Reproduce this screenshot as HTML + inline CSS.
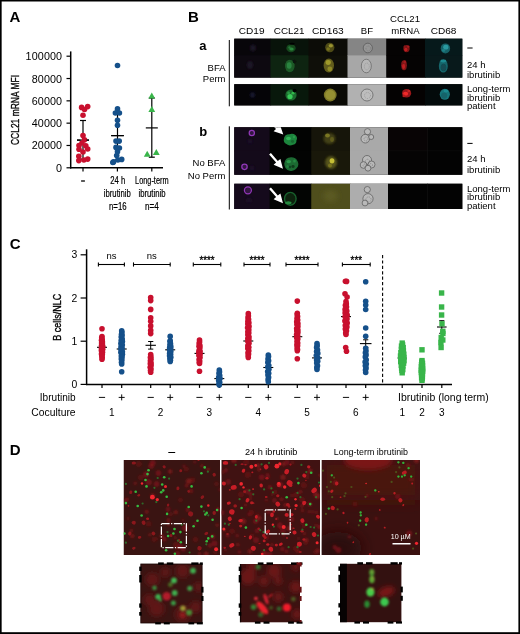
<!DOCTYPE html>
<html><head><meta charset="utf-8"><title>Figure</title>
<style>html,body{margin:0;padding:0;background:#fff}svg{display:block}</style></head>
<body>
<svg width="520" height="634" viewBox="0 0 520 634" font-family="Liberation Sans, sans-serif">
<defs>
<filter id="b1" x="-50%" y="-50%" width="200%" height="200%"><feGaussianBlur stdDeviation="0.6"/></filter>
<filter id="b15" x="-50%" y="-50%" width="200%" height="200%"><feGaussianBlur stdDeviation="0.95"/></filter>
<filter id="b2" x="-50%" y="-50%" width="200%" height="200%"><feGaussianBlur stdDeviation="1.2"/></filter>
<filter id="b3" x="-50%" y="-50%" width="200%" height="200%"><feGaussianBlur stdDeviation="2.5"/></filter>
<filter id="b8" x="-50%" y="-50%" width="200%" height="200%"><feGaussianBlur stdDeviation="7"/></filter>
<clipPath id="cd1"><rect x="123.75" y="460" width="96.25" height="95"/></clipPath>
<clipPath id="cd2"><rect x="221.5" y="460" width="98.5" height="95"/></clipPath>
<clipPath id="cd3"><rect x="321.75" y="460" width="98.25" height="95"/></clipPath>
<clipPath id="ci1"><rect x="140.8" y="564" width="61.3" height="59"/></clipPath>
<clipPath id="ci2"><rect x="240.5" y="564" width="59.5" height="58.3"/></clipPath>
<clipPath id="ci3"><rect x="340" y="563.8" width="61.4" height="58.4"/></clipPath>
<clipPath id="cba"><rect x="234.25" y="38.7" width="228" height="66.7"/></clipPath>
<clipPath id="cbb"><rect x="234.25" y="127.25" width="228" height="82"/></clipPath>
</defs>
<rect x="0" y="0" width="520" height="634" fill="#fff"/>
<rect x="0" y="0" width="520" height="1.5" fill="#000"/><rect x="0" y="0" width="1.65" height="634" fill="#000"/><rect x="518.4" y="0" width="1.6" height="634" fill="#000"/><rect x="0" y="632.2" width="520" height="1.8" fill="#000"/>
<text x="9.5" y="22" font-size="15" text-anchor="start" font-weight="bold" fill="#000" >A</text>
<line x1="70.7" y1="51.4" x2="70.7" y2="168.5" stroke="#000" stroke-width="1.5" />
<line x1="70.0" y1="167.8" x2="163" y2="167.8" stroke="#000" stroke-width="1.5" />
<line x1="66.5" y1="167.8" x2="70.7" y2="167.8" stroke="#000" stroke-width="1.2" />
<text x="62.2" y="171.8" font-size="10.75" text-anchor="end" font-weight="normal" fill="#000" letter-spacing="0.12">0</text>
<line x1="66.5" y1="145.48000000000002" x2="70.7" y2="145.48000000000002" stroke="#000" stroke-width="1.2" />
<text x="62.2" y="149.48000000000002" font-size="10.75" text-anchor="end" font-weight="normal" fill="#000" letter-spacing="0.12">20000</text>
<line x1="66.5" y1="123.16000000000001" x2="70.7" y2="123.16000000000001" stroke="#000" stroke-width="1.2" />
<text x="62.2" y="127.16000000000001" font-size="10.75" text-anchor="end" font-weight="normal" fill="#000" letter-spacing="0.12">40000</text>
<line x1="66.5" y1="100.84" x2="70.7" y2="100.84" stroke="#000" stroke-width="1.2" />
<text x="62.2" y="104.84" font-size="10.75" text-anchor="end" font-weight="normal" fill="#000" letter-spacing="0.12">60000</text>
<line x1="66.5" y1="78.52000000000001" x2="70.7" y2="78.52000000000001" stroke="#000" stroke-width="1.2" />
<text x="62.2" y="82.52000000000001" font-size="10.75" text-anchor="end" font-weight="normal" fill="#000" letter-spacing="0.12">80000</text>
<line x1="66.5" y1="56.20000000000002" x2="70.7" y2="56.20000000000002" stroke="#000" stroke-width="1.2" />
<text x="62.2" y="60.20000000000002" font-size="10.75" text-anchor="end" font-weight="normal" fill="#000" letter-spacing="0.12">100000</text>
<line x1="83" y1="167.8" x2="83" y2="171.5" stroke="#000" stroke-width="1.2" />
<line x1="117.4" y1="167.8" x2="117.4" y2="171.5" stroke="#000" stroke-width="1.2" />
<line x1="151.8" y1="167.8" x2="151.8" y2="171.5" stroke="#000" stroke-width="1.2" />
<text transform="translate(19.4,110) rotate(-90)" font-size="11.5" text-anchor="middle" textLength="70" lengthAdjust="spacingAndGlyphs" stroke="#000" stroke-width="0.35">CCL21 mRNA MFI</text>
<line x1="81.1" y1="181" x2="84.9" y2="181" stroke="#000" stroke-width="1.3" />
<text x="117.8" y="184" font-size="10" text-anchor="middle" font-weight="normal" fill="#000" textLength="15" lengthAdjust="spacingAndGlyphs" stroke="#000" stroke-width="0.2">24 h</text>
<text x="117.3" y="196.8" font-size="10" text-anchor="middle" font-weight="normal" fill="#000" textLength="27" lengthAdjust="spacingAndGlyphs" stroke="#000" stroke-width="0.2">ibrutinib</text>
<text x="117.8" y="209.5" font-size="10" text-anchor="middle" font-weight="normal" fill="#000" textLength="17.5" lengthAdjust="spacingAndGlyphs" stroke="#000" stroke-width="0.2">n=16</text>
<text x="151.8" y="184" font-size="10" text-anchor="middle" font-weight="normal" fill="#000" textLength="33.5" lengthAdjust="spacingAndGlyphs" stroke="#000" stroke-width="0.2">Long-term</text>
<text x="152" y="196.8" font-size="10" text-anchor="middle" font-weight="normal" fill="#000" textLength="27" lengthAdjust="spacingAndGlyphs" stroke="#000" stroke-width="0.2">ibrutinib</text>
<text x="151.9" y="209.5" font-size="10" text-anchor="middle" font-weight="normal" fill="#000" textLength="13.8" lengthAdjust="spacingAndGlyphs" stroke="#000" stroke-width="0.2">n=4</text>
<line x1="83" y1="120.5" x2="83" y2="159.1" stroke="#000" stroke-width="1.2" />
<line x1="80" y1="120.5" x2="86" y2="120.5" stroke="#000" stroke-width="1.2" />
<line x1="80" y1="159.1" x2="86" y2="159.1" stroke="#000" stroke-width="1.2" />
<line x1="77" y1="140.1" x2="89" y2="140.1" stroke="#000" stroke-width="1.2" />
<line x1="117.5" y1="113" x2="117.5" y2="160" stroke="#000" stroke-width="1.2" />
<line x1="114.5" y1="113" x2="120.5" y2="113" stroke="#000" stroke-width="1.2" />
<line x1="114.5" y1="160" x2="120.5" y2="160" stroke="#000" stroke-width="1.2" />
<line x1="111.2" y1="135.6" x2="123.8" y2="135.6" stroke="#000" stroke-width="1.2" />
<circle cx="81.6" cy="107.4" r="2.8" fill="#c8102e" />
<circle cx="87.7" cy="106.6" r="2.8" fill="#c8102e" />
<circle cx="84.5" cy="109.5" r="2.8" fill="#c8102e" />
<circle cx="83.0" cy="115.2" r="2.8" fill="#c8102e" />
<circle cx="83.0" cy="135.6" r="2.8" fill="#c8102e" />
<circle cx="84.5" cy="139.8" r="2.8" fill="#c8102e" />
<circle cx="82.0" cy="143.0" r="2.8" fill="#c8102e" />
<circle cx="79.0" cy="145.5" r="2.8" fill="#c8102e" />
<circle cx="85.8" cy="145.8" r="2.8" fill="#c8102e" />
<circle cx="79.0" cy="149.3" r="2.8" fill="#c8102e" />
<circle cx="87.7" cy="149.0" r="2.8" fill="#c8102e" />
<circle cx="83.0" cy="152.0" r="2.8" fill="#c8102e" />
<circle cx="78.8" cy="156.2" r="2.8" fill="#c8102e" />
<circle cx="78.8" cy="160.6" r="2.8" fill="#c8102e" />
<circle cx="87.7" cy="159.1" r="2.8" fill="#c8102e" />
<circle cx="83.9" cy="160.0" r="2.8" fill="#c8102e" />
<circle cx="117.5" cy="65.5" r="2.8" fill="#15508a" />
<circle cx="117.5" cy="108.9" r="2.8" fill="#15508a" />
<circle cx="115.4" cy="113.0" r="2.8" fill="#15508a" />
<circle cx="119.4" cy="113.0" r="2.8" fill="#15508a" />
<circle cx="117.5" cy="120.3" r="2.8" fill="#15508a" />
<circle cx="117.5" cy="125.3" r="2.8" fill="#15508a" />
<circle cx="116.0" cy="141.1" r="2.8" fill="#15508a" />
<circle cx="119.2" cy="141.1" r="2.8" fill="#15508a" />
<circle cx="116.0" cy="147.4" r="2.8" fill="#15508a" />
<circle cx="119.4" cy="148.0" r="2.8" fill="#15508a" />
<circle cx="117.5" cy="151.8" r="2.8" fill="#15508a" />
<circle cx="116.7" cy="155.6" r="2.8" fill="#15508a" />
<circle cx="113.5" cy="161.9" r="2.8" fill="#15508a" />
<circle cx="117.9" cy="160.0" r="2.8" fill="#15508a" />
<circle cx="121.7" cy="159.4" r="2.8" fill="#15508a" />
<circle cx="112.8" cy="162.5" r="2.8" fill="#15508a" />
<line x1="77" y1="140.1" x2="80.5" y2="140.1" stroke="#000" stroke-width="1.2" />
<line x1="86.5" y1="140.1" x2="89" y2="140.1" stroke="#000" stroke-width="1.2" />
<line x1="111.2" y1="135.6" x2="123.8" y2="135.6" stroke="#000" stroke-width="1.2" />
<line x1="151.8" y1="98" x2="151.8" y2="157.2" stroke="#000" stroke-width="1.2" />
<line x1="148.8" y1="98" x2="154.8" y2="98" stroke="#000" stroke-width="1.2" />
<line x1="148.8" y1="157.2" x2="154.8" y2="157.2" stroke="#000" stroke-width="1.2" />
<line x1="145.8" y1="127.9" x2="157.8" y2="127.9" stroke="#000" stroke-width="1.2" />
<polygon points="148.4,98.6 155.2,98.6 151.8,92.6" fill="#39b54a"/>
<polygon points="148.4,112.0 155.2,112.0 151.8,106.0" fill="#39b54a"/>
<polygon points="143.8,156.7 150.6,156.7 147.2,150.7" fill="#39b54a"/>
<polygon points="152.9,155.0 159.7,155.0 156.3,149.0" fill="#39b54a"/>
<text x="188" y="22" font-size="15" text-anchor="start" font-weight="bold" fill="#000" >B</text>
<text x="199.3" y="49.8" font-size="13" text-anchor="start" font-weight="bold" fill="#000" >a</text>
<text x="199.3" y="136.3" font-size="13" text-anchor="start" font-weight="bold" fill="#000" >b</text>
<text x="225.5" y="71" font-size="9.5" text-anchor="end" font-weight="normal" fill="#000" >BFA</text>
<text x="225.5" y="82.3" font-size="9.5" text-anchor="end" font-weight="normal" fill="#000" >Perm</text>
<text x="225.3" y="166.2" font-size="9.5" text-anchor="end" font-weight="normal" fill="#000" >No BFA</text>
<text x="225.3" y="178.7" font-size="9.5" text-anchor="end" font-weight="normal" fill="#000" >No Perm</text>
<line x1="229.3" y1="40" x2="229.3" y2="106.3" stroke="#000" stroke-width="1" />
<line x1="229.3" y1="126.3" x2="229.3" y2="209.5" stroke="#000" stroke-width="1" />
<text x="238.75" y="33.8" font-size="9.8" text-anchor="start" font-weight="normal" fill="#000" textLength="25.75" lengthAdjust="spacingAndGlyphs" >CD19</text>
<text x="273.75" y="33.8" font-size="9.8" text-anchor="start" font-weight="normal" fill="#000" textLength="30.75" lengthAdjust="spacingAndGlyphs" >CCL21</text>
<text x="312" y="33.8" font-size="9.8" text-anchor="start" font-weight="normal" fill="#000" textLength="31.75" lengthAdjust="spacingAndGlyphs" >CD163</text>
<text x="360.75" y="33.8" font-size="9.8" text-anchor="start" font-weight="normal" fill="#000" textLength="12.25" lengthAdjust="spacingAndGlyphs" >BF</text>
<text x="430.7" y="33.8" font-size="9.8" text-anchor="start" font-weight="normal" fill="#000" textLength="25.8" lengthAdjust="spacingAndGlyphs" >CD68</text>
<text x="390" y="22" font-size="9.8" text-anchor="start" font-weight="normal" fill="#000" textLength="30" lengthAdjust="spacingAndGlyphs" >CCL21</text>
<text x="391.25" y="33.8" font-size="9.8" text-anchor="start" font-weight="normal" fill="#000" textLength="28.3" lengthAdjust="spacingAndGlyphs" >mRNA</text>
<line x1="467.3" y1="48" x2="472.6" y2="48" stroke="#000" stroke-width="1.0" />
<text x="467" y="67.7" font-size="9.5" text-anchor="start" font-weight="normal" fill="#000" >24 h</text>
<text x="467" y="78" font-size="9.5" text-anchor="start" font-weight="normal" fill="#000" >ibrutinib</text>
<text x="467" y="92.4" font-size="9.5" text-anchor="start" font-weight="normal" fill="#000" >Long-term</text>
<text x="467" y="100.7" font-size="9.5" text-anchor="start" font-weight="normal" fill="#000" >ibrutinib</text>
<text x="467" y="109.2" font-size="9.5" text-anchor="start" font-weight="normal" fill="#000" >patient</text>
<line x1="467.3" y1="143.4" x2="472.6" y2="143.4" stroke="#000" stroke-width="1.0" />
<text x="467" y="161.8" font-size="9.5" text-anchor="start" font-weight="normal" fill="#000" >24 h</text>
<text x="467" y="172.7" font-size="9.5" text-anchor="start" font-weight="normal" fill="#000" >ibrutinib</text>
<text x="467" y="191.6" font-size="9.5" text-anchor="start" font-weight="normal" fill="#000" >Long-term</text>
<text x="467" y="200" font-size="9.5" text-anchor="start" font-weight="normal" fill="#000" >ibrutinib</text>
<text x="467" y="209" font-size="9.5" text-anchor="start" font-weight="normal" fill="#000" >patient</text>
<rect x="234.25" y="38.7" width="228.05" height="38.9" fill="#0a0a0a" />
<rect x="234.25" y="84.2" width="228.05" height="21.2" fill="#0a0a0a" />
<rect x="234.25" y="38.7" width="36.85" height="17.15" fill="#08060a" />
<rect x="234.25" y="55.25" width="36.85" height="22.349999999999994" fill="#0d0910" />
<rect x="234.25" y="84.2" width="36.85" height="21.200000000000003" fill="#050407" />
<rect x="270.5" y="38.7" width="38.6" height="17.15" fill="#08130a" />
<rect x="270.5" y="55.25" width="38.6" height="22.349999999999994" fill="#0e2411" />
<rect x="270.5" y="84.2" width="38.6" height="21.200000000000003" fill="#08180b" />
<rect x="308.5" y="38.7" width="39.6" height="17.15" fill="#0c0c07" />
<rect x="308.5" y="55.25" width="39.6" height="22.349999999999994" fill="#0f0f09" />
<rect x="308.5" y="84.2" width="39.6" height="21.200000000000003" fill="#0a0a05" />
<rect x="347.5" y="38.7" width="39.35" height="17.15" fill="#858585" />
<rect x="347.5" y="55.25" width="39.35" height="22.349999999999994" fill="#a7a7a7" />
<rect x="347.5" y="84.2" width="39.35" height="21.200000000000003" fill="#b1b1b1" />
<rect x="386.25" y="38.7" width="39.35" height="17.15" fill="#050303" />
<rect x="386.25" y="55.25" width="39.35" height="22.349999999999994" fill="#050303" />
<rect x="386.25" y="84.2" width="39.35" height="21.200000000000003" fill="#040202" />
<rect x="425" y="38.7" width="37.30000000000001" height="17.15" fill="#06191b" />
<rect x="425" y="55.25" width="37.30000000000001" height="22.349999999999994" fill="#08191b" />
<rect x="425" y="84.2" width="37.30000000000001" height="21.200000000000003" fill="#030a0b" />
<g clip-path="url(#cba)">
<ellipse cx="253" cy="48" rx="2.8" ry="3.2" fill="#1c1528" filter="url(#b2)"/>
<ellipse cx="250" cy="65" rx="3" ry="4" fill="#1d1428" filter="url(#b2)"/>
<ellipse cx="252.5" cy="95" rx="2.4" ry="2.8" fill="#191530" filter="url(#b2)"/>
<ellipse cx="291" cy="48.2" rx="4.6" ry="4.0" fill="#18481f" filter="url(#b1)"/>
<ellipse cx="291.5" cy="49" rx="2.2" ry="1.6" fill="#2a8a3e" filter="url(#b1)"/>
<ellipse cx="289.5" cy="47.5" rx="1.2" ry="1.2" fill="#25763a" filter="url(#b1)"/>
<ellipse cx="289.8" cy="66" rx="4.8" ry="6.2" fill="#1d5a28" filter="url(#b1)"/>
<ellipse cx="289.2" cy="65.5" rx="2.4" ry="3.2" fill="#2a8440" filter="url(#b1)"/>
<ellipse cx="291" cy="95" rx="5.6" ry="5.6" fill="#1b6a2e" filter="url(#b1)"/>
<ellipse cx="290" cy="96.5" rx="2.6" ry="2.6" fill="#38cc58" filter="url(#b1)"/>
<ellipse cx="293" cy="93.2" rx="1.5" ry="1.4" fill="#32b84c" filter="url(#b1)"/>
<ellipse cx="288.6" cy="93" rx="1.4" ry="1.6" fill="#2a9a44" filter="url(#b1)"/>
<ellipse cx="292" cy="43.8" rx="2.8" ry="1.0" fill="#000" filter="url(#b1)"/>
<ellipse cx="294.6" cy="61.6" rx="1.8" ry="1.8" fill="#08150a" filter="url(#b1)"/>
<ellipse cx="294.6" cy="90.6" rx="2.0" ry="1.8" fill="#020502" filter="url(#b1)"/>
<ellipse cx="329.8" cy="47.5" rx="4.6" ry="4.8" fill="#4f4b16" filter="url(#b1)"/>
<ellipse cx="330.8" cy="45.8" rx="2.2" ry="1.8" fill="#9a9430" filter="url(#b1)"/>
<ellipse cx="328.2" cy="49" rx="1.8" ry="1.8" fill="#77721f" filter="url(#b1)"/>
<ellipse cx="328.8" cy="65.5" rx="5.2" ry="7.0" fill="#625d1b" filter="url(#b1)"/>
<ellipse cx="328.2" cy="62.5" rx="2.6" ry="2.4" fill="#a09a2c" filter="url(#b1)"/>
<ellipse cx="329.8" cy="69" rx="2.4" ry="2.4" fill="#8f8a28" filter="url(#b1)"/>
<ellipse cx="330.2" cy="95" rx="6.4" ry="6.4" fill="#7a7526" filter="url(#b1)"/>
<ellipse cx="330.2" cy="95" rx="5" ry="5" fill="#959032" filter="url(#b1)"/>
<ellipse cx="367.8" cy="48" rx="4.6" ry="4.8" fill="#959595" stroke="#5a5a5a" stroke-width="0.8" filter="url(#b1)"/>
<ellipse cx="368.3" cy="48.5" rx="2.3" ry="2.4" fill="none" stroke="#5a5a5a" stroke-width="0.5" stroke-dasharray="1 1" filter="url(#b1)" opacity="0.7"/>
<ellipse cx="366.3" cy="66" rx="5.0" ry="6.8" fill="#b6b6b6" stroke="#6a6a6a" stroke-width="0.8" filter="url(#b1)"/>
<ellipse cx="366.8" cy="66.5" rx="2.5" ry="3.4" fill="none" stroke="#6a6a6a" stroke-width="0.5" stroke-dasharray="1 1" filter="url(#b1)" opacity="0.7"/>
<ellipse cx="367" cy="95" rx="6.0" ry="6.0" fill="#bdbdbd" stroke="#666" stroke-width="0.8" filter="url(#b1)"/>
<ellipse cx="367.5" cy="95.5" rx="3.0" ry="3.0" fill="none" stroke="#666" stroke-width="0.5" stroke-dasharray="1 1" filter="url(#b1)" opacity="0.7"/>
<ellipse cx="406.5" cy="48.6" rx="3.2" ry="3.6" fill="#7a1416" filter="url(#b1)"/>
<ellipse cx="405.8" cy="49.6" rx="1.6" ry="1.8" fill="#c01e20" filter="url(#b1)"/>
<ellipse cx="408.2" cy="46.6" rx="1.3" ry="1.2" fill="#a81a1c" filter="url(#b1)"/>
<ellipse cx="404.6" cy="46.8" rx="1.0" ry="1.2" fill="#8a1618" filter="url(#b1)"/>
<ellipse cx="404" cy="65.3" rx="2.9" ry="5" fill="#7e1416" filter="url(#b1)"/>
<ellipse cx="403.6" cy="66.5" rx="1.5" ry="2.4" fill="#c01e20" filter="url(#b1)"/>
<ellipse cx="404.8" cy="62" rx="1.4" ry="1.4" fill="#a01a1c" filter="url(#b1)"/>
<ellipse cx="406.6" cy="93.2" rx="4.6" ry="4.2" fill="#9a181a" filter="url(#b1)"/>
<ellipse cx="405.6" cy="93.8" rx="2.6" ry="2.0" fill="#f02a2a" filter="url(#b1)"/>
<ellipse cx="408.8" cy="91" rx="1.4" ry="1.2" fill="#c82222" filter="url(#b1)"/>
<ellipse cx="404" cy="96" rx="1.6" ry="1.2" fill="#b01c1c" filter="url(#b1)"/>
<ellipse cx="445.4" cy="48.4" rx="4.7" ry="5" fill="#166268" filter="url(#b1)"/>
<ellipse cx="445.8" cy="47.2" rx="2.6" ry="2.4" fill="#2a9aa0" filter="url(#b1)"/>
<ellipse cx="443.6" cy="50.4" rx="1.6" ry="1.4" fill="#1f8086" filter="url(#b1)"/>
<ellipse cx="443.3" cy="66" rx="4.5" ry="6.6" fill="#15656b" filter="url(#b1)"/>
<ellipse cx="443.5" cy="67.5" rx="2.8" ry="3.8" fill="#124c52" filter="url(#b1)"/>
<ellipse cx="443.3" cy="61" rx="3" ry="1.4" fill="#1f8a90" filter="url(#b1)"/>
<ellipse cx="444.8" cy="94.3" rx="5.1" ry="5.5" fill="#18747a" filter="url(#b1)"/>
<ellipse cx="444.2" cy="95.6" rx="3" ry="3.2" fill="#14646a" filter="url(#b1)"/>
<ellipse cx="446" cy="91" rx="2.4" ry="1.4" fill="#1f8a90" filter="url(#b1)"/>
</g>
<rect x="234.25" y="127.25" width="228.05" height="47.5" fill="#0a0a0a" />
<rect x="234.25" y="183.75" width="228.05" height="25.25" fill="#0a0a0a" />
<rect x="234.25" y="127.25" width="35.950000000000024" height="24.1" fill="#140a1a" />
<rect x="234.25" y="150.75" width="35.950000000000024" height="24.0" fill="#140a1a" />
<rect x="234.25" y="183.75" width="35.950000000000024" height="25.25" fill="#150a1c" />
<rect x="269.6" y="127.25" width="42.24999999999998" height="24.1" fill="#020302" />
<rect x="269.6" y="150.75" width="42.24999999999998" height="24.0" fill="#020302" />
<rect x="269.6" y="183.75" width="42.24999999999998" height="25.25" fill="#030503" />
<rect x="311.25" y="127.25" width="39.35" height="24.1" fill="#16150a" />
<rect x="311.25" y="150.75" width="39.35" height="24.0" fill="#19180a" />
<rect x="311.25" y="183.75" width="39.35" height="25.25" fill="#4f4e1c" />
<rect x="350" y="127.25" width="38.6" height="24.1" fill="#a9a9a9" />
<rect x="350" y="150.75" width="38.6" height="24.0" fill="#a9a9a9" />
<rect x="350" y="183.75" width="38.6" height="25.25" fill="#adadad" />
<rect x="388" y="127.25" width="40.1" height="24.1" fill="#080405" />
<rect x="388" y="150.75" width="40.1" height="24.0" fill="#050404" />
<rect x="388" y="183.75" width="40.1" height="25.25" fill="#030303" />
<rect x="427.5" y="127.25" width="34.80000000000001" height="24.1" fill="#030303" />
<rect x="427.5" y="150.75" width="34.80000000000001" height="24.0" fill="#030303" />
<rect x="427.5" y="183.75" width="34.80000000000001" height="25.25" fill="#030303" />
<g clip-path="url(#cbb)">
<circle cx="251.8" cy="133" r="2.6" fill="#30123f" stroke="#9238b8" stroke-width="1.25" filter="url(#b1)"/>
<circle cx="244.5" cy="166.8" r="2.7" fill="#30123f" stroke="#9238b8" stroke-width="1.25" filter="url(#b1)"/>
<circle cx="247.9" cy="190.3" r="3.5" fill="#30123f" stroke="#9238b8" stroke-width="1.25" filter="url(#b1)"/>
<ellipse cx="250" cy="141" rx="2.5" ry="2.5" fill="#1c0f26" filter="url(#b2)"/>
<ellipse cx="252" cy="168" rx="2.5" ry="2.5" fill="#1c0f26" filter="url(#b2)"/>
<ellipse cx="249" cy="200" rx="3" ry="2.5" fill="#1e1028" filter="url(#b2)"/>
<path d="M283.8,139.5 q0.4,-5.2 5.6,-5.2 q3.4,-1.4 6.2,0.9 q2.4,2.4 0.8,5.2 q0.4,3.4 -3.4,4.3 q-3.8,1.8 -6.6,-0.6 q-2.9,-1.6 -2.6,-4.6z" fill="#1f853c" filter="url(#b1)"/>
<ellipse cx="288.5" cy="138.5" rx="2.4" ry="1.8" fill="#34b458" filter="url(#b1)"/>
<ellipse cx="292.5" cy="141.5" rx="1.6" ry="1.4" fill="#176a30" filter="url(#b1)"/>
<ellipse cx="294" cy="137" rx="1.2" ry="1.2" fill="#2a9a4a" filter="url(#b1)"/>
<path d="M284.3,163.5 q0.9,-6.2 6.8,-6.2 q4.9,0 6.5,4 q1.8,3.8 -0.7,6.7 q-2.7,3.6 -7.2,2.7 q-5.4,-0.9 -5.4,-7.2z" fill="#1a6a32" filter="url(#b1)"/>
<ellipse cx="288.8" cy="161.6" rx="2.2" ry="1.6" fill="#2c9a4a" filter="url(#b1)"/>
<ellipse cx="293" cy="166.5" rx="1.6" ry="1.4" fill="#0f3a1a" filter="url(#b1)"/>
<ellipse cx="290" cy="167" rx="1.2" ry="1.2" fill="#114220" filter="url(#b1)"/>
<ellipse cx="294.5" cy="161" rx="1.4" ry="1.6" fill="#258a42" filter="url(#b1)"/>
<ellipse cx="287.5" cy="166.5" rx="1.2" ry="1.6" fill="#238240" filter="url(#b1)"/>
<ellipse cx="290.3" cy="198.8" rx="5.8" ry="6.4" fill="#0a200f" stroke="#18602c" stroke-width="1.4" filter="url(#b1)"/>
<ellipse cx="288.3" cy="202.8" rx="3.2" ry="1.5" fill="#258a40" filter="url(#b1)"/>
<polygon points="269.5,122.4 276.0,128.9 273.6,131.3 283.3,134.6 280.0,124.9 277.6,127.3 271.1,120.8" fill="#fff"/>
<polygon points="269.1,154.6 276.1,162.6 273.6,164.8 283.0,168.8 280.4,158.9 277.8,161.1 270.9,153.0" fill="#fff"/>
<polygon points="269.1,189.1 276.1,197.1 273.6,199.3 283.0,203.3 280.4,193.4 277.8,195.6 270.9,187.5" fill="#fff"/>
<ellipse cx="329.5" cy="138.5" rx="6" ry="5.5" fill="#424012" filter="url(#b2)"/>
<ellipse cx="327.5" cy="135.5" rx="2.4" ry="2" fill="#7a7624" filter="url(#b1)"/>
<ellipse cx="332" cy="139.5" rx="2" ry="2.4" fill="#5f5b1b" filter="url(#b1)"/>
<ellipse cx="331" cy="162.5" rx="6" ry="6.5" fill="#55531a" filter="url(#b2)"/>
<ellipse cx="332" cy="160.8" rx="2.4" ry="2.6" fill="#c4be34" filter="url(#b1)"/>
<ellipse cx="330" cy="165.5" rx="2" ry="2" fill="#77731f" filter="url(#b1)"/>
<ellipse cx="330.5" cy="196" rx="7" ry="6" fill="#5b5a22" filter="url(#b3)"/>
<circle cx="367.5" cy="131.7" r="3.1" fill="#b9b9b9" stroke="#5c5c5c" stroke-width="0.75" filter="url(#b1)"/>
<circle cx="365.3" cy="138.7" r="4.3" fill="#b9b9b9" stroke="#5c5c5c" stroke-width="0.75" filter="url(#b1)"/>
<circle cx="371.2" cy="137" r="2.5" fill="#b9b9b9" stroke="#5c5c5c" stroke-width="0.75" filter="url(#b1)"/>
<circle cx="367" cy="160" r="4.5" fill="#b9b9b9" stroke="#5c5c5c" stroke-width="0.75" filter="url(#b1)"/>
<circle cx="363.5" cy="165" r="3.3" fill="#b9b9b9" stroke="#5c5c5c" stroke-width="0.75" filter="url(#b1)"/>
<circle cx="371.5" cy="164.5" r="3.5" fill="#b9b9b9" stroke="#5c5c5c" stroke-width="0.75" filter="url(#b1)"/>
<circle cx="368" cy="168.2" r="2.9" fill="#b9b9b9" stroke="#5c5c5c" stroke-width="0.75" filter="url(#b1)"/>
<circle cx="367.3" cy="189.6" r="3.1" fill="#b9b9b9" stroke="#5c5c5c" stroke-width="0.75" filter="url(#b1)"/>
<circle cx="368" cy="198.7" r="5.1" fill="#b9b9b9" stroke="#5c5c5c" stroke-width="0.75" filter="url(#b1)"/>
<circle cx="365" cy="203" r="2.9" fill="#b9b9b9" stroke="#5c5c5c" stroke-width="0.75" filter="url(#b1)"/>
<circle cx="366" cy="139" r="2" fill="none" stroke="#666" stroke-width="0.5" stroke-dasharray="1 0.8" filter="url(#b1)"/>
<circle cx="367.5" cy="161.5" r="2.2" fill="none" stroke="#666" stroke-width="0.5" stroke-dasharray="1 0.8" filter="url(#b1)"/>
<circle cx="368.5" cy="199.5" r="2.6" fill="none" stroke="#666" stroke-width="0.5" stroke-dasharray="1 0.8" filter="url(#b1)"/>
<circle cx="364.5" cy="165.5" r="1.4" fill="none" stroke="#666" stroke-width="0.5" stroke-dasharray="1 0.8" filter="url(#b1)"/>
<circle cx="371" cy="165" r="1.5" fill="none" stroke="#666" stroke-width="0.5" stroke-dasharray="1 0.8" filter="url(#b1)"/>
</g>
<line x1="427.5" y1="127.25" x2="427.5" y2="174.75" stroke="#1c1c1c" stroke-width="0.4" />
<line x1="427.5" y1="183.75" x2="427.5" y2="209" stroke="#1c1c1c" stroke-width="0.4" />
<line x1="388" y1="150.75" x2="462.3" y2="150.75" stroke="#161616" stroke-width="0.4" />
<text x="9.8" y="248.8" font-size="15" text-anchor="start" font-weight="bold" fill="#000" >C</text>
<line x1="86.6" y1="249.3" x2="86.6" y2="385.09999999999997" stroke="#000" stroke-width="1.5" />
<line x1="85.89999999999999" y1="384.4" x2="452" y2="384.4" stroke="#000" stroke-width="1.5" />
<line x1="80.6" y1="384.4" x2="86.6" y2="384.4" stroke="#000" stroke-width="1.2" />
<text x="77.3" y="388.0" font-size="10.4" text-anchor="end" font-weight="normal" fill="#000" >0</text>
<line x1="80.6" y1="341.2" x2="86.6" y2="341.2" stroke="#000" stroke-width="1.2" />
<text x="77.3" y="344.8" font-size="10.4" text-anchor="end" font-weight="normal" fill="#000" >1</text>
<line x1="80.6" y1="298.0" x2="86.6" y2="298.0" stroke="#000" stroke-width="1.2" />
<text x="77.3" y="301.6" font-size="10.4" text-anchor="end" font-weight="normal" fill="#000" >2</text>
<line x1="80.6" y1="254.79999999999995" x2="86.6" y2="254.79999999999995" stroke="#000" stroke-width="1.2" />
<text x="77.3" y="258.4" font-size="10.4" text-anchor="end" font-weight="normal" fill="#000" >3</text>
<text transform="translate(61.2,317.2) rotate(-90)" font-size="10.5" text-anchor="middle" textLength="47" lengthAdjust="spacingAndGlyphs" stroke="#000" stroke-width="0.35">B cells/NLC</text>
<line x1="102" y1="384.4" x2="102" y2="387.9" stroke="#000" stroke-width="1.2" />
<line x1="121.7" y1="384.4" x2="121.7" y2="387.9" stroke="#000" stroke-width="1.2" />
<line x1="150.7" y1="384.4" x2="150.7" y2="387.9" stroke="#000" stroke-width="1.2" />
<line x1="170.2" y1="384.4" x2="170.2" y2="387.9" stroke="#000" stroke-width="1.2" />
<line x1="199.5" y1="384.4" x2="199.5" y2="387.9" stroke="#000" stroke-width="1.2" />
<line x1="219.3" y1="384.4" x2="219.3" y2="387.9" stroke="#000" stroke-width="1.2" />
<line x1="248.3" y1="384.4" x2="248.3" y2="387.9" stroke="#000" stroke-width="1.2" />
<line x1="268.3" y1="384.4" x2="268.3" y2="387.9" stroke="#000" stroke-width="1.2" />
<line x1="297.3" y1="384.4" x2="297.3" y2="387.9" stroke="#000" stroke-width="1.2" />
<line x1="317" y1="384.4" x2="317" y2="387.9" stroke="#000" stroke-width="1.2" />
<line x1="346" y1="384.4" x2="346" y2="387.9" stroke="#000" stroke-width="1.2" />
<line x1="365.7" y1="384.4" x2="365.7" y2="387.9" stroke="#000" stroke-width="1.2" />
<line x1="402.2" y1="384.4" x2="402.2" y2="387.9" stroke="#000" stroke-width="1.2" />
<line x1="422" y1="384.4" x2="422" y2="387.9" stroke="#000" stroke-width="1.2" />
<line x1="441.8" y1="384.4" x2="441.8" y2="387.9" stroke="#000" stroke-width="1.2" />
<text x="75.6" y="400.5" font-size="10" text-anchor="end" font-weight="normal" fill="#000" textLength="35.8" lengthAdjust="spacingAndGlyphs" >Ibrutinib</text>
<text x="75.6" y="416.3" font-size="10" text-anchor="end" font-weight="normal" fill="#000" textLength="44.3" lengthAdjust="spacingAndGlyphs" >Coculture</text>
<line x1="98.9" y1="397.4" x2="105.1" y2="397.4" stroke="#000" stroke-width="0.95" />
<line x1="118.7" y1="397.4" x2="124.7" y2="397.4" stroke="#000" stroke-width="0.95" />
<line x1="121.7" y1="394.4" x2="121.7" y2="400.4" stroke="#000" stroke-width="0.95" />
<line x1="147.6" y1="397.4" x2="153.79999999999998" y2="397.4" stroke="#000" stroke-width="0.95" />
<line x1="167.2" y1="397.4" x2="173.2" y2="397.4" stroke="#000" stroke-width="0.95" />
<line x1="170.2" y1="394.4" x2="170.2" y2="400.4" stroke="#000" stroke-width="0.95" />
<line x1="196.4" y1="397.4" x2="202.6" y2="397.4" stroke="#000" stroke-width="0.95" />
<line x1="216.3" y1="397.4" x2="222.3" y2="397.4" stroke="#000" stroke-width="0.95" />
<line x1="219.3" y1="394.4" x2="219.3" y2="400.4" stroke="#000" stroke-width="0.95" />
<line x1="245.20000000000002" y1="397.4" x2="251.4" y2="397.4" stroke="#000" stroke-width="0.95" />
<line x1="265.3" y1="397.4" x2="271.3" y2="397.4" stroke="#000" stroke-width="0.95" />
<line x1="268.3" y1="394.4" x2="268.3" y2="400.4" stroke="#000" stroke-width="0.95" />
<line x1="294.2" y1="397.4" x2="300.40000000000003" y2="397.4" stroke="#000" stroke-width="0.95" />
<line x1="314" y1="397.4" x2="320" y2="397.4" stroke="#000" stroke-width="0.95" />
<line x1="317" y1="394.4" x2="317" y2="400.4" stroke="#000" stroke-width="0.95" />
<line x1="342.9" y1="397.4" x2="349.1" y2="397.4" stroke="#000" stroke-width="0.95" />
<line x1="362.7" y1="397.4" x2="368.7" y2="397.4" stroke="#000" stroke-width="0.95" />
<line x1="365.7" y1="394.4" x2="365.7" y2="400.4" stroke="#000" stroke-width="0.95" />
<text x="111.85" y="416.3" font-size="10" text-anchor="middle" font-weight="normal" fill="#000" >1</text>
<text x="160.45" y="416.3" font-size="10" text-anchor="middle" font-weight="normal" fill="#000" >2</text>
<text x="209.4" y="416.3" font-size="10" text-anchor="middle" font-weight="normal" fill="#000" >3</text>
<text x="258.3" y="416.3" font-size="10" text-anchor="middle" font-weight="normal" fill="#000" >4</text>
<text x="307.15" y="416.3" font-size="10" text-anchor="middle" font-weight="normal" fill="#000" >5</text>
<text x="355.85" y="416.3" font-size="10" text-anchor="middle" font-weight="normal" fill="#000" >6</text>
<text x="398" y="400.5" font-size="10" text-anchor="start" font-weight="normal" fill="#000" textLength="90.8" lengthAdjust="spacingAndGlyphs" >Ibrutinib (long term)</text>
<text x="402.2" y="416.3" font-size="10" text-anchor="middle" font-weight="normal" fill="#000" >1</text>
<text x="422" y="416.3" font-size="10" text-anchor="middle" font-weight="normal" fill="#000" >2</text>
<text x="441.8" y="416.3" font-size="10" text-anchor="middle" font-weight="normal" fill="#000" >3</text>
<line x1="98.4" y1="264.5" x2="124.4" y2="264.5" stroke="#000" stroke-width="1.1" />
<line x1="98.4" y1="262.4" x2="98.4" y2="266.6" stroke="#000" stroke-width="1.1" />
<line x1="124.4" y1="262.4" x2="124.4" y2="266.6" stroke="#000" stroke-width="1.1" />
<text x="111.4" y="259" font-size="9.5" text-anchor="middle" font-weight="normal" fill="#000" >ns</text>
<line x1="133.5" y1="264.5" x2="170.2" y2="264.5" stroke="#000" stroke-width="1.1" />
<line x1="133.5" y1="262.4" x2="133.5" y2="266.6" stroke="#000" stroke-width="1.1" />
<line x1="170.2" y1="262.4" x2="170.2" y2="266.6" stroke="#000" stroke-width="1.1" />
<text x="151.85" y="259" font-size="9.5" text-anchor="middle" font-weight="normal" fill="#000" >ns</text>
<line x1="193.3" y1="264.5" x2="220.8" y2="264.5" stroke="#000" stroke-width="1.1" />
<line x1="193.3" y1="262.4" x2="193.3" y2="266.6" stroke="#000" stroke-width="1.1" />
<line x1="220.8" y1="262.4" x2="220.8" y2="266.6" stroke="#000" stroke-width="1.1" />
<text x="207.05" y="263.5" font-size="10.5" text-anchor="middle" font-weight="normal" fill="#000" textLength="15.2" lengthAdjust="spacingAndGlyphs" stroke="#000" stroke-width="0.3">****</text>
<line x1="244" y1="264.5" x2="270" y2="264.5" stroke="#000" stroke-width="1.1" />
<line x1="244" y1="262.4" x2="244" y2="266.6" stroke="#000" stroke-width="1.1" />
<line x1="270" y1="262.4" x2="270" y2="266.6" stroke="#000" stroke-width="1.1" />
<text x="257.0" y="263.5" font-size="10.5" text-anchor="middle" font-weight="normal" fill="#000" textLength="15.2" lengthAdjust="spacingAndGlyphs" stroke="#000" stroke-width="0.3">****</text>
<line x1="286" y1="264.5" x2="318" y2="264.5" stroke="#000" stroke-width="1.1" />
<line x1="286" y1="262.4" x2="286" y2="266.6" stroke="#000" stroke-width="1.1" />
<line x1="318" y1="262.4" x2="318" y2="266.6" stroke="#000" stroke-width="1.1" />
<text x="302.0" y="263.5" font-size="10.5" text-anchor="middle" font-weight="normal" fill="#000" textLength="15.2" lengthAdjust="spacingAndGlyphs" stroke="#000" stroke-width="0.3">****</text>
<line x1="342.4" y1="264.5" x2="370.2" y2="264.5" stroke="#000" stroke-width="1.1" />
<line x1="342.4" y1="262.4" x2="342.4" y2="266.6" stroke="#000" stroke-width="1.1" />
<line x1="370.2" y1="262.4" x2="370.2" y2="266.6" stroke="#000" stroke-width="1.1" />
<text x="356.29999999999995" y="263.5" font-size="10.5" text-anchor="middle" font-weight="normal" fill="#000" textLength="11.4" lengthAdjust="spacingAndGlyphs" stroke="#000" stroke-width="0.3">***</text>
<line x1="382.6" y1="255" x2="382.6" y2="384" stroke="#000" stroke-width="1.1" stroke-dasharray="3.2 2.2"/>
<line x1="97.0" y1="347.3" x2="107.0" y2="347.3" stroke="#000" stroke-width="1.1" />
<line x1="116.7" y1="349" x2="126.7" y2="349" stroke="#000" stroke-width="1.1" />
<line x1="145.5" y1="345.3" x2="155.89999999999998" y2="345.3" stroke="#000" stroke-width="1.1" />
<line x1="150.7" y1="341.5" x2="150.7" y2="349.1" stroke="#000" stroke-width="1" />
<line x1="148.1" y1="341.5" x2="153.29999999999998" y2="341.5" stroke="#000" stroke-width="1" />
<line x1="148.1" y1="349.1" x2="153.29999999999998" y2="349.1" stroke="#000" stroke-width="1" />
<line x1="165.2" y1="349.8" x2="175.2" y2="349.8" stroke="#000" stroke-width="1.1" />
<line x1="194.5" y1="353.4" x2="204.5" y2="353.4" stroke="#000" stroke-width="1.1" />
<line x1="214.3" y1="378.6" x2="224.3" y2="378.6" stroke="#000" stroke-width="1.1" />
<line x1="243.3" y1="341" x2="253.3" y2="341" stroke="#000" stroke-width="1.1" />
<line x1="263.3" y1="367.5" x2="273.3" y2="367.5" stroke="#000" stroke-width="1.1" />
<line x1="292.3" y1="336.7" x2="302.3" y2="336.7" stroke="#000" stroke-width="1.1" />
<line x1="312.0" y1="357.9" x2="322.0" y2="357.9" stroke="#000" stroke-width="1.1" />
<line x1="341" y1="316.6" x2="351" y2="316.6" stroke="#000" stroke-width="1.1" />
<line x1="346" y1="313.40000000000003" x2="346" y2="319.8" stroke="#000" stroke-width="1" />
<line x1="343.4" y1="313.40000000000003" x2="348.6" y2="313.40000000000003" stroke="#000" stroke-width="1" />
<line x1="343.4" y1="319.8" x2="348.6" y2="319.8" stroke="#000" stroke-width="1" />
<line x1="359.9" y1="343.6" x2="371.5" y2="343.6" stroke="#000" stroke-width="1.1" />
<line x1="365.7" y1="339.8" x2="365.7" y2="347.40000000000003" stroke="#000" stroke-width="1" />
<line x1="363.09999999999997" y1="339.8" x2="368.3" y2="339.8" stroke="#000" stroke-width="1" />
<line x1="363.09999999999997" y1="347.40000000000003" x2="368.3" y2="347.40000000000003" stroke="#000" stroke-width="1" />
<circle cx="102.0" cy="328.8" r="2.8" fill="#c8102e" />
<circle cx="102.0" cy="336.5" r="2.8" fill="#c8102e" />
<circle cx="101.7" cy="337.7" r="2.8" fill="#c8102e" />
<circle cx="102.2" cy="339.5" r="2.8" fill="#c8102e" />
<circle cx="101.5" cy="340.2" r="2.8" fill="#c8102e" />
<circle cx="102.4" cy="341.9" r="2.8" fill="#c8102e" />
<circle cx="101.6" cy="343.1" r="2.8" fill="#c8102e" />
<circle cx="102.4" cy="344.1" r="2.8" fill="#c8102e" />
<circle cx="101.5" cy="345.8" r="2.8" fill="#c8102e" />
<circle cx="102.8" cy="346.6" r="2.8" fill="#c8102e" />
<circle cx="101.5" cy="348.3" r="2.8" fill="#c8102e" />
<circle cx="102.7" cy="349.3" r="2.8" fill="#c8102e" />
<circle cx="101.4" cy="350.6" r="2.8" fill="#c8102e" />
<circle cx="102.5" cy="352.2" r="2.8" fill="#c8102e" />
<circle cx="101.5" cy="353.9" r="2.8" fill="#c8102e" />
<circle cx="102.3" cy="354.5" r="2.8" fill="#c8102e" />
<circle cx="101.8" cy="355.9" r="2.8" fill="#c8102e" />
<circle cx="102.2" cy="357.6" r="2.8" fill="#c8102e" />
<circle cx="102.0" cy="359.2" r="2.8" fill="#c8102e" />
<circle cx="121.7" cy="330.9" r="2.8" fill="#15508a" />
<circle cx="121.9" cy="332.4" r="2.8" fill="#15508a" />
<circle cx="121.5" cy="334.2" r="2.8" fill="#15508a" />
<circle cx="122.1" cy="335.6" r="2.8" fill="#15508a" />
<circle cx="121.2" cy="337.0" r="2.8" fill="#15508a" />
<circle cx="122.2" cy="339.1" r="2.8" fill="#15508a" />
<circle cx="121.2" cy="340.5" r="2.8" fill="#15508a" />
<circle cx="122.4" cy="341.6" r="2.8" fill="#15508a" />
<circle cx="120.9" cy="343.5" r="2.8" fill="#15508a" />
<circle cx="122.3" cy="345.0" r="2.8" fill="#15508a" />
<circle cx="121.0" cy="346.9" r="2.8" fill="#15508a" />
<circle cx="122.1" cy="348.3" r="2.8" fill="#15508a" />
<circle cx="121.0" cy="349.4" r="2.8" fill="#15508a" />
<circle cx="122.4" cy="351.7" r="2.8" fill="#15508a" />
<circle cx="120.9" cy="352.4" r="2.8" fill="#15508a" />
<circle cx="122.4" cy="354.2" r="2.8" fill="#15508a" />
<circle cx="121.3" cy="356.1" r="2.8" fill="#15508a" />
<circle cx="122.1" cy="357.0" r="2.8" fill="#15508a" />
<circle cx="121.3" cy="358.9" r="2.8" fill="#15508a" />
<circle cx="121.9" cy="360.0" r="2.8" fill="#15508a" />
<circle cx="121.5" cy="362.2" r="2.8" fill="#15508a" />
<circle cx="121.7" cy="363.9" r="2.8" fill="#15508a" />
<circle cx="121.7" cy="371.7" r="2.8" fill="#15508a" />
<circle cx="150.7" cy="297.6" r="2.8" fill="#c8102e" />
<circle cx="150.7" cy="300.6" r="2.8" fill="#c8102e" />
<circle cx="150.7" cy="309.4" r="2.8" fill="#c8102e" />
<circle cx="150.7" cy="317.8" r="2.8" fill="#c8102e" />
<circle cx="150.7" cy="321.3" r="2.8" fill="#c8102e" />
<circle cx="150.7" cy="325.9" r="2.8" fill="#c8102e" />
<circle cx="150.7" cy="330.4" r="2.8" fill="#c8102e" />
<circle cx="150.7" cy="333.6" r="2.8" fill="#c8102e" />
<circle cx="150.7" cy="354.5" r="2.8" fill="#c8102e" />
<circle cx="150.9" cy="356.7" r="2.8" fill="#c8102e" />
<circle cx="150.4" cy="357.6" r="2.8" fill="#c8102e" />
<circle cx="151.0" cy="359.3" r="2.8" fill="#c8102e" />
<circle cx="150.4" cy="360.9" r="2.8" fill="#c8102e" />
<circle cx="151.1" cy="363.0" r="2.8" fill="#c8102e" />
<circle cx="150.3" cy="363.7" r="2.8" fill="#c8102e" />
<circle cx="151.1" cy="365.6" r="2.8" fill="#c8102e" />
<circle cx="150.2" cy="367.2" r="2.8" fill="#c8102e" />
<circle cx="151.0" cy="369.1" r="2.8" fill="#c8102e" />
<circle cx="150.5" cy="370.6" r="2.8" fill="#c8102e" />
<circle cx="150.7" cy="372.2" r="2.8" fill="#c8102e" />
<circle cx="170.2" cy="336.4" r="2.8" fill="#15508a" />
<circle cx="170.2" cy="340.7" r="2.8" fill="#15508a" />
<circle cx="170.0" cy="341.5" r="2.8" fill="#15508a" />
<circle cx="170.5" cy="343.7" r="2.8" fill="#15508a" />
<circle cx="169.9" cy="345.0" r="2.8" fill="#15508a" />
<circle cx="170.8" cy="346.6" r="2.8" fill="#15508a" />
<circle cx="169.6" cy="347.9" r="2.8" fill="#15508a" />
<circle cx="170.7" cy="348.9" r="2.8" fill="#15508a" />
<circle cx="169.7" cy="350.3" r="2.8" fill="#15508a" />
<circle cx="170.8" cy="351.5" r="2.8" fill="#15508a" />
<circle cx="169.6" cy="353.4" r="2.8" fill="#15508a" />
<circle cx="170.6" cy="354.3" r="2.8" fill="#15508a" />
<circle cx="169.6" cy="355.7" r="2.8" fill="#15508a" />
<circle cx="170.8" cy="357.2" r="2.8" fill="#15508a" />
<circle cx="169.9" cy="358.6" r="2.8" fill="#15508a" />
<circle cx="170.4" cy="360.2" r="2.8" fill="#15508a" />
<circle cx="170.2" cy="361.4" r="2.8" fill="#15508a" />
<circle cx="199.5" cy="340.1" r="2.8" fill="#c8102e" />
<circle cx="199.6" cy="341.9" r="2.8" fill="#c8102e" />
<circle cx="199.2" cy="343.4" r="2.8" fill="#c8102e" />
<circle cx="199.9" cy="345.5" r="2.8" fill="#c8102e" />
<circle cx="199.0" cy="346.3" r="2.8" fill="#c8102e" />
<circle cx="199.9" cy="347.8" r="2.8" fill="#c8102e" />
<circle cx="199.1" cy="350.2" r="2.8" fill="#c8102e" />
<circle cx="200.1" cy="351.4" r="2.8" fill="#c8102e" />
<circle cx="198.8" cy="352.5" r="2.8" fill="#c8102e" />
<circle cx="200.1" cy="354.5" r="2.8" fill="#c8102e" />
<circle cx="198.9" cy="355.5" r="2.8" fill="#c8102e" />
<circle cx="200.0" cy="357.5" r="2.8" fill="#c8102e" />
<circle cx="199.1" cy="359.5" r="2.8" fill="#c8102e" />
<circle cx="199.7" cy="361.0" r="2.8" fill="#c8102e" />
<circle cx="199.3" cy="362.3" r="2.8" fill="#c8102e" />
<circle cx="199.5" cy="363.5" r="2.8" fill="#c8102e" />
<circle cx="199.5" cy="371.3" r="2.8" fill="#c8102e" />
<circle cx="219.3" cy="370.0" r="2.8" fill="#15508a" />
<circle cx="219.5" cy="371.9" r="2.8" fill="#15508a" />
<circle cx="219.0" cy="373.5" r="2.8" fill="#15508a" />
<circle cx="219.7" cy="375.5" r="2.8" fill="#15508a" />
<circle cx="218.7" cy="377.4" r="2.8" fill="#15508a" />
<circle cx="220.0" cy="378.5" r="2.8" fill="#15508a" />
<circle cx="218.7" cy="380.6" r="2.8" fill="#15508a" />
<circle cx="219.7" cy="382.3" r="2.8" fill="#15508a" />
<circle cx="219.0" cy="383.8" r="2.8" fill="#15508a" />
<circle cx="219.3" cy="384.9" r="2.8" fill="#15508a" />
<circle cx="248.3" cy="313.6" r="2.8" fill="#c8102e" />
<circle cx="248.4" cy="315.9" r="2.8" fill="#c8102e" />
<circle cx="248.0" cy="317.9" r="2.8" fill="#c8102e" />
<circle cx="248.6" cy="319.5" r="2.8" fill="#c8102e" />
<circle cx="247.9" cy="321.2" r="2.8" fill="#c8102e" />
<circle cx="248.9" cy="322.7" r="2.8" fill="#c8102e" />
<circle cx="247.8" cy="324.1" r="2.8" fill="#c8102e" />
<circle cx="249.0" cy="326.4" r="2.8" fill="#c8102e" />
<circle cx="247.6" cy="327.7" r="2.8" fill="#c8102e" />
<circle cx="248.8" cy="329.9" r="2.8" fill="#c8102e" />
<circle cx="247.8" cy="331.8" r="2.8" fill="#c8102e" />
<circle cx="248.8" cy="333.0" r="2.8" fill="#c8102e" />
<circle cx="247.8" cy="334.7" r="2.8" fill="#c8102e" />
<circle cx="249.0" cy="337.0" r="2.8" fill="#c8102e" />
<circle cx="247.8" cy="338.5" r="2.8" fill="#c8102e" />
<circle cx="248.9" cy="339.7" r="2.8" fill="#c8102e" />
<circle cx="247.9" cy="341.4" r="2.8" fill="#c8102e" />
<circle cx="249.0" cy="343.2" r="2.8" fill="#c8102e" />
<circle cx="247.8" cy="345.7" r="2.8" fill="#c8102e" />
<circle cx="248.8" cy="347.3" r="2.8" fill="#c8102e" />
<circle cx="247.8" cy="348.4" r="2.8" fill="#c8102e" />
<circle cx="248.8" cy="350.8" r="2.8" fill="#c8102e" />
<circle cx="248.0" cy="352.7" r="2.8" fill="#c8102e" />
<circle cx="248.6" cy="354.1" r="2.8" fill="#c8102e" />
<circle cx="248.2" cy="355.5" r="2.8" fill="#c8102e" />
<circle cx="248.3" cy="357.4" r="2.8" fill="#c8102e" />
<circle cx="268.3" cy="355.0" r="2.8" fill="#15508a" />
<circle cx="268.5" cy="356.5" r="2.8" fill="#15508a" />
<circle cx="268.0" cy="359.0" r="2.8" fill="#15508a" />
<circle cx="268.6" cy="360.8" r="2.8" fill="#15508a" />
<circle cx="267.8" cy="362.6" r="2.8" fill="#15508a" />
<circle cx="268.8" cy="365.5" r="2.8" fill="#15508a" />
<circle cx="267.8" cy="366.9" r="2.8" fill="#15508a" />
<circle cx="268.9" cy="369.2" r="2.8" fill="#15508a" />
<circle cx="267.7" cy="371.5" r="2.8" fill="#15508a" />
<circle cx="268.7" cy="373.3" r="2.8" fill="#15508a" />
<circle cx="267.9" cy="375.1" r="2.8" fill="#15508a" />
<circle cx="268.6" cy="377.4" r="2.8" fill="#15508a" />
<circle cx="268.1" cy="379.4" r="2.8" fill="#15508a" />
<circle cx="268.3" cy="381.7" r="2.8" fill="#15508a" />
<circle cx="297.3" cy="301.1" r="2.8" fill="#c8102e" />
<circle cx="297.3" cy="313.2" r="2.8" fill="#c8102e" />
<circle cx="297.2" cy="314.9" r="2.8" fill="#c8102e" />
<circle cx="297.6" cy="316.5" r="2.8" fill="#c8102e" />
<circle cx="297.0" cy="318.6" r="2.8" fill="#c8102e" />
<circle cx="297.7" cy="320.0" r="2.8" fill="#c8102e" />
<circle cx="296.7" cy="321.8" r="2.8" fill="#c8102e" />
<circle cx="297.9" cy="323.5" r="2.8" fill="#c8102e" />
<circle cx="296.9" cy="324.5" r="2.8" fill="#c8102e" />
<circle cx="297.9" cy="326.4" r="2.8" fill="#c8102e" />
<circle cx="296.7" cy="328.5" r="2.8" fill="#c8102e" />
<circle cx="297.9" cy="330.0" r="2.8" fill="#c8102e" />
<circle cx="296.8" cy="331.0" r="2.8" fill="#c8102e" />
<circle cx="297.9" cy="332.6" r="2.8" fill="#c8102e" />
<circle cx="296.6" cy="334.6" r="2.8" fill="#c8102e" />
<circle cx="297.7" cy="335.8" r="2.8" fill="#c8102e" />
<circle cx="296.7" cy="337.7" r="2.8" fill="#c8102e" />
<circle cx="297.8" cy="339.1" r="2.8" fill="#c8102e" />
<circle cx="297.0" cy="341.4" r="2.8" fill="#c8102e" />
<circle cx="297.7" cy="343.1" r="2.8" fill="#c8102e" />
<circle cx="296.9" cy="344.9" r="2.8" fill="#c8102e" />
<circle cx="297.6" cy="345.8" r="2.8" fill="#c8102e" />
<circle cx="297.1" cy="348.0" r="2.8" fill="#c8102e" />
<circle cx="297.5" cy="349.6" r="2.8" fill="#c8102e" />
<circle cx="297.3" cy="350.7" r="2.8" fill="#c8102e" />
<circle cx="297.3" cy="358.7" r="2.8" fill="#c8102e" />
<circle cx="317.0" cy="343.6" r="2.8" fill="#15508a" />
<circle cx="317.2" cy="345.7" r="2.8" fill="#15508a" />
<circle cx="316.6" cy="347.4" r="2.8" fill="#15508a" />
<circle cx="317.5" cy="350.1" r="2.8" fill="#15508a" />
<circle cx="316.6" cy="351.6" r="2.8" fill="#15508a" />
<circle cx="317.8" cy="353.4" r="2.8" fill="#15508a" />
<circle cx="316.3" cy="355.6" r="2.8" fill="#15508a" />
<circle cx="317.8" cy="358.0" r="2.8" fill="#15508a" />
<circle cx="316.6" cy="359.9" r="2.8" fill="#15508a" />
<circle cx="317.7" cy="361.3" r="2.8" fill="#15508a" />
<circle cx="316.7" cy="363.1" r="2.8" fill="#15508a" />
<circle cx="317.5" cy="365.8" r="2.8" fill="#15508a" />
<circle cx="316.8" cy="367.4" r="2.8" fill="#15508a" />
<circle cx="317.0" cy="369.5" r="2.8" fill="#15508a" />
<circle cx="345.4" cy="281.2" r="2.8" fill="#c8102e" />
<circle cx="346.6" cy="281.4" r="2.8" fill="#c8102e" />
<circle cx="345.0" cy="293.8" r="2.8" fill="#c8102e" />
<circle cx="347.1" cy="297.0" r="2.8" fill="#c8102e" />
<circle cx="346.0" cy="301.6" r="2.8" fill="#c8102e" />
<circle cx="346.3" cy="303.9" r="2.8" fill="#c8102e" />
<circle cx="345.4" cy="305.2" r="2.8" fill="#c8102e" />
<circle cx="346.5" cy="307.0" r="2.8" fill="#c8102e" />
<circle cx="345.1" cy="309.4" r="2.8" fill="#c8102e" />
<circle cx="346.8" cy="311.1" r="2.8" fill="#c8102e" />
<circle cx="345.1" cy="312.9" r="2.8" fill="#c8102e" />
<circle cx="347.2" cy="315.0" r="2.8" fill="#c8102e" />
<circle cx="345.1" cy="316.8" r="2.8" fill="#c8102e" />
<circle cx="347.0" cy="318.9" r="2.8" fill="#c8102e" />
<circle cx="344.9" cy="321.0" r="2.8" fill="#c8102e" />
<circle cx="347.2" cy="323.0" r="2.8" fill="#c8102e" />
<circle cx="345.3" cy="325.4" r="2.8" fill="#c8102e" />
<circle cx="346.9" cy="326.9" r="2.8" fill="#c8102e" />
<circle cx="345.3" cy="329.1" r="2.8" fill="#c8102e" />
<circle cx="346.5" cy="330.7" r="2.8" fill="#c8102e" />
<circle cx="345.7" cy="332.9" r="2.8" fill="#c8102e" />
<circle cx="346.0" cy="334.5" r="2.8" fill="#c8102e" />
<circle cx="345.7" cy="347.5" r="2.8" fill="#c8102e" />
<circle cx="346.5" cy="351.3" r="2.8" fill="#c8102e" />
<circle cx="365.7" cy="281.7" r="2.8" fill="#15508a" />
<circle cx="365.7" cy="301.2" r="2.8" fill="#15508a" />
<circle cx="365.7" cy="305.0" r="2.8" fill="#15508a" />
<circle cx="365.7" cy="309.5" r="2.8" fill="#15508a" />
<circle cx="365.7" cy="328.0" r="2.8" fill="#15508a" />
<circle cx="365.7" cy="336.2" r="2.8" fill="#15508a" />
<circle cx="365.7" cy="348.3" r="2.8" fill="#15508a" />
<circle cx="366.0" cy="351.1" r="2.8" fill="#15508a" />
<circle cx="365.4" cy="352.8" r="2.8" fill="#15508a" />
<circle cx="366.1" cy="354.9" r="2.8" fill="#15508a" />
<circle cx="365.3" cy="356.9" r="2.8" fill="#15508a" />
<circle cx="366.2" cy="359.9" r="2.8" fill="#15508a" />
<circle cx="365.1" cy="362.1" r="2.8" fill="#15508a" />
<circle cx="366.3" cy="364.0" r="2.8" fill="#15508a" />
<circle cx="365.3" cy="365.8" r="2.8" fill="#15508a" />
<circle cx="366.1" cy="367.9" r="2.8" fill="#15508a" />
<circle cx="365.5" cy="370.1" r="2.8" fill="#15508a" />
<circle cx="365.7" cy="372.5" r="2.8" fill="#15508a" />
<line x1="397.59999999999997" y1="358" x2="406.8" y2="358" stroke="#000" stroke-width="1.1" />
<line x1="437.0" y1="327" x2="446.6" y2="327" stroke="#000" stroke-width="1.1" />
<line x1="441.8" y1="320.7" x2="441.8" y2="333.3" stroke="#000" stroke-width="1" />
<line x1="439.2" y1="320.7" x2="444.40000000000003" y2="320.7" stroke="#000" stroke-width="1" />
<line x1="439.2" y1="333.3" x2="444.40000000000003" y2="333.3" stroke="#000" stroke-width="1" />
<rect x="399.5" y="340.4" width="5.4" height="5.4" fill="#39b54a" />
<rect x="399.9" y="342.2" width="5.4" height="5.4" fill="#39b54a" />
<rect x="398.8" y="343.4" width="5.4" height="5.4" fill="#39b54a" />
<rect x="400.5" y="344.9" width="5.4" height="5.4" fill="#39b54a" />
<rect x="398.7" y="346.7" width="5.4" height="5.4" fill="#39b54a" />
<rect x="400.7" y="348.2" width="5.4" height="5.4" fill="#39b54a" />
<rect x="398.2" y="350.0" width="5.4" height="5.4" fill="#39b54a" />
<rect x="401.1" y="351.5" width="5.4" height="5.4" fill="#39b54a" />
<rect x="397.8" y="353.3" width="5.4" height="5.4" fill="#39b54a" />
<rect x="401.2" y="354.7" width="5.4" height="5.4" fill="#39b54a" />
<rect x="398.0" y="356.3" width="5.4" height="5.4" fill="#39b54a" />
<rect x="401.3" y="358.0" width="5.4" height="5.4" fill="#39b54a" />
<rect x="398.0" y="359.0" width="5.4" height="5.4" fill="#39b54a" />
<rect x="400.9" y="360.5" width="5.4" height="5.4" fill="#39b54a" />
<rect x="398.6" y="362.7" width="5.4" height="5.4" fill="#39b54a" />
<rect x="400.2" y="363.3" width="5.4" height="5.4" fill="#39b54a" />
<rect x="398.9" y="365.4" width="5.4" height="5.4" fill="#39b54a" />
<rect x="400.1" y="366.9" width="5.4" height="5.4" fill="#39b54a" />
<rect x="399.2" y="367.8" width="5.4" height="5.4" fill="#39b54a" />
<rect x="399.5" y="370.1" width="5.4" height="5.4" fill="#39b54a" />
<rect x="419.3" y="347.1" width="5.4" height="5.4" fill="#39b54a" />
<rect x="419.3" y="357.9" width="5.4" height="5.4" fill="#39b54a" />
<rect x="419.0" y="359.3" width="5.4" height="5.4" fill="#39b54a" />
<rect x="419.8" y="360.6" width="5.4" height="5.4" fill="#39b54a" />
<rect x="418.8" y="362.0" width="5.4" height="5.4" fill="#39b54a" />
<rect x="419.8" y="363.1" width="5.4" height="5.4" fill="#39b54a" />
<rect x="418.7" y="364.0" width="5.4" height="5.4" fill="#39b54a" />
<rect x="420.0" y="366.1" width="5.4" height="5.4" fill="#39b54a" />
<rect x="418.5" y="367.4" width="5.4" height="5.4" fill="#39b54a" />
<rect x="420.0" y="368.5" width="5.4" height="5.4" fill="#39b54a" />
<rect x="418.6" y="369.8" width="5.4" height="5.4" fill="#39b54a" />
<rect x="419.7" y="371.3" width="5.4" height="5.4" fill="#39b54a" />
<rect x="418.9" y="372.0" width="5.4" height="5.4" fill="#39b54a" />
<rect x="419.7" y="374.0" width="5.4" height="5.4" fill="#39b54a" />
<rect x="418.9" y="374.9" width="5.4" height="5.4" fill="#39b54a" />
<rect x="419.5" y="376.0" width="5.4" height="5.4" fill="#39b54a" />
<rect x="419.3" y="377.6" width="5.4" height="5.4" fill="#39b54a" />
<rect x="438.9" y="290.3" width="5.4" height="5.4" fill="#39b54a" />
<rect x="438.9" y="304.3" width="5.4" height="5.4" fill="#39b54a" />
<rect x="438.9" y="312.3" width="5.4" height="5.4" fill="#39b54a" />
<rect x="439.3" y="321.1" width="5.4" height="5.4" fill="#39b54a" />
<rect x="440.1" y="328.6" width="5.4" height="5.4" fill="#39b54a" />
<rect x="440.2" y="330.8" width="5.4" height="5.4" fill="#39b54a" />
<rect x="438.5" y="334.8" width="5.4" height="5.4" fill="#39b54a" />
<rect x="438.2" y="339.8" width="5.4" height="5.4" fill="#39b54a" />
<rect x="438.4" y="344.8" width="5.4" height="5.4" fill="#39b54a" />
<rect x="440.1" y="337.3" width="5.4" height="5.4" fill="#39b54a" />
<text x="9.8" y="454.9" font-size="15" text-anchor="start" font-weight="bold" fill="#000" >D</text>
<line x1="168.3" y1="452.5" x2="175.2" y2="452.5" stroke="#000" stroke-width="1.0" />
<text x="271.2" y="455" font-size="9.2" text-anchor="middle" font-weight="normal" fill="#000" textLength="52.5" lengthAdjust="spacingAndGlyphs" >24 h ibrutinib</text>
<text x="370.9" y="455" font-size="9.2" text-anchor="middle" font-weight="normal" fill="#000" textLength="74.3" lengthAdjust="spacingAndGlyphs" >Long-term ibrutinib</text>
<rect x="123.75" y="460" width="96.25" height="95" fill="#3a1412" />
<g clip-path="url(#cd1)">
<g filter="url(#b2)">
<circle cx="146.7" cy="511.7" r="2.0" fill="#801619" opacity="0.75"/>
<circle cx="184.0" cy="466.2" r="1.4" fill="#801619" opacity="0.75"/>
<circle cx="148.7" cy="482.3" r="3.0" fill="#801619" opacity="0.75"/>
<circle cx="175.8" cy="512.2" r="2.0" fill="#8a1a1c" opacity="0.75"/>
<circle cx="146.1" cy="474.4" r="2.9" fill="#801619" opacity="0.75"/>
<circle cx="195.1" cy="523.8" r="1.5" fill="#7a1418" opacity="0.75"/>
<circle cx="152.7" cy="462.9" r="2.8" fill="#801619" opacity="0.75"/>
<circle cx="181.0" cy="547.4" r="2.0" fill="#801619" opacity="0.75"/>
<circle cx="161.8" cy="536.1" r="2.1" fill="#8a1a1c" opacity="0.75"/>
<circle cx="208.3" cy="469.3" r="1.6" fill="#8a1a1c" opacity="0.75"/>
<circle cx="148.6" cy="523.8" r="2.6" fill="#6a1416" opacity="0.75"/>
<circle cx="164.3" cy="539.2" r="2.3" fill="#801619" opacity="0.75"/>
<circle cx="180.0" cy="545.9" r="2.5" fill="#7a1418" opacity="0.75"/>
<circle cx="206.2" cy="554.1" r="2.5" fill="#8a1a1c" opacity="0.75"/>
<circle cx="191.0" cy="491.0" r="2.3" fill="#7a1418" opacity="0.75"/>
<circle cx="192.5" cy="480.1" r="2.7" fill="#6a1416" opacity="0.75"/>
<circle cx="151.2" cy="466.0" r="2.8" fill="#801619" opacity="0.75"/>
<circle cx="132.3" cy="536.1" r="2.1" fill="#8a1a1c" opacity="0.75"/>
<circle cx="125.7" cy="500.6" r="2.1" fill="#7a1418" opacity="0.75"/>
<circle cx="128.0" cy="518.4" r="1.5" fill="#6a1416" opacity="0.75"/>
<circle cx="176.8" cy="547.6" r="1.8" fill="#8a1a1c" opacity="0.75"/>
<circle cx="219.9" cy="489.4" r="1.5" fill="#7a1418" opacity="0.75"/>
<circle cx="215.1" cy="552.3" r="1.9" fill="#6a1416" opacity="0.75"/>
<circle cx="138.8" cy="464.0" r="2.8" fill="#6a1416" opacity="0.75"/>
<circle cx="158.4" cy="473.1" r="2.8" fill="#801619" opacity="0.75"/>
<circle cx="168.1" cy="509.4" r="2.4" fill="#7a1418" opacity="0.75"/>
<circle cx="183.4" cy="549.4" r="2.2" fill="#801619" opacity="0.75"/>
<circle cx="184.8" cy="528.0" r="2.9" fill="#801619" opacity="0.75"/>
<circle cx="217.9" cy="509.5" r="2.3" fill="#7a1418" opacity="0.75"/>
<circle cx="199.6" cy="553.8" r="1.9" fill="#801619" opacity="0.75"/>
<circle cx="183.0" cy="520.1" r="1.5" fill="#6a1416" opacity="0.75"/>
<circle cx="168.6" cy="524.5" r="2.0" fill="#6a1416" opacity="0.75"/>
<circle cx="194.8" cy="462.1" r="1.5" fill="#7a1418" opacity="0.75"/>
<circle cx="216.5" cy="483.9" r="2.1" fill="#6a1416" opacity="0.75"/>
<circle cx="140.8" cy="477.6" r="2.6" fill="#6a1416" opacity="0.75"/>
<circle cx="152.7" cy="495.8" r="2.6" fill="#7a1418" opacity="0.75"/>
<circle cx="217.2" cy="525.0" r="1.6" fill="#8a1a1c" opacity="0.75"/>
<circle cx="186.7" cy="485.6" r="1.9" fill="#801619" opacity="0.75"/>
<circle cx="186.3" cy="469.2" r="2.4" fill="#6a1416" opacity="0.75"/>
<circle cx="188.7" cy="481.3" r="2.7" fill="#8a1a1c" opacity="0.75"/>
<circle cx="131.4" cy="530.5" r="1.7" fill="#801619" opacity="0.75"/>
<circle cx="149.8" cy="534.8" r="1.5" fill="#8a1a1c" opacity="0.75"/>
<circle cx="154.1" cy="539.4" r="2.3" fill="#6a1416" opacity="0.75"/>
<circle cx="156.5" cy="538.7" r="1.5" fill="#6a1416" opacity="0.75"/>
<circle cx="180.5" cy="500.0" r="2.2" fill="#6a1416" opacity="0.75"/>
<circle cx="168.5" cy="520.2" r="1.9" fill="#801619" opacity="0.75"/>
<circle cx="127.2" cy="499.3" r="1.7" fill="#801619" opacity="0.75"/>
<circle cx="214.5" cy="543.6" r="3.0" fill="#801619" opacity="0.75"/>
<circle cx="177.5" cy="553.6" r="2.5" fill="#7a1418" opacity="0.75"/>
<circle cx="195.5" cy="539.5" r="2.5" fill="#6a1416" opacity="0.75"/>
<circle cx="176.1" cy="544.5" r="2.8" fill="#6a1416" opacity="0.75"/>
<circle cx="135.3" cy="483.2" r="1.5" fill="#8a1a1c" opacity="0.75"/>
<circle cx="210.0" cy="545.5" r="2.3" fill="#7a1418" opacity="0.75"/>
<circle cx="170.1" cy="471.5" r="2.2" fill="#8a1a1c" opacity="0.75"/>
<circle cx="187.6" cy="509.9" r="2.1" fill="#7a1418" opacity="0.75"/>
<circle cx="156.6" cy="484.0" r="2.8" fill="#801619" opacity="0.75"/>
<circle cx="201.9" cy="465.8" r="1.8" fill="#7a1418" opacity="0.75"/>
<circle cx="175.2" cy="537.6" r="1.7" fill="#6a1416" opacity="0.75"/>
<circle cx="212.5" cy="536.6" r="2.7" fill="#7a1418" opacity="0.75"/>
<circle cx="170.7" cy="514.2" r="2.0" fill="#6a1416" opacity="0.75"/>
</g><g filter="url(#b1)">
<ellipse cx="147.6" cy="518.7" rx="1.5" ry="1.2" fill="#b01a20" opacity="0.9"/>
<ellipse cx="198.5" cy="460.2" rx="1.0" ry="0.6" fill="#c01c24" opacity="0.9"/>
<ellipse cx="128.5" cy="505.9" rx="0.9" ry="0.8" fill="#b01a20" opacity="0.9"/>
<ellipse cx="133.8" cy="462.9" rx="2.2" ry="1.5" transform="rotate(0 133.8 462.9)" fill="#8c181b"/>
<ellipse cx="164.2" cy="466.8" rx="1.6" ry="1.5" transform="rotate(53 164.2 466.8)" fill="#8c181b"/>
<ellipse cx="130.8" cy="492.3" rx="1.8" ry="1.5" transform="rotate(106 130.8 492.3)" fill="#8c181b"/>
<ellipse cx="138.7" cy="495.3" rx="1.6" ry="1.2" transform="rotate(159 138.7 495.3)" fill="#8c181b"/>
<ellipse cx="190.6" cy="513.9" rx="2.6" ry="2.4" transform="rotate(32 190.6 513.9)" fill="#8c181b"/>
<ellipse cx="214.2" cy="512.9" rx="2.0" ry="1.7" transform="rotate(85 214.2 512.9)" fill="#8c181b"/>
<ellipse cx="202.4" cy="497.2" rx="2.0" ry="1.5" transform="rotate(138 202.4 497.2)" fill="#8c181b"/>
<ellipse cx="133.8" cy="522.7" rx="2.0" ry="1.9" transform="rotate(11 133.8 522.7)" fill="#8c181b"/>
<ellipse cx="143.6" cy="522.7" rx="2.2" ry="1.9" transform="rotate(64 143.6 522.7)" fill="#8c181b"/>
<ellipse cx="129.8" cy="533.5" rx="2.0" ry="1.6" transform="rotate(117 129.8 533.5)" fill="#8c181b"/>
<ellipse cx="139.6" cy="537.4" rx="1.8" ry="1.3" transform="rotate(170 139.6 537.4)" fill="#8c181b"/>
<ellipse cx="153.4" cy="533.5" rx="2.0" ry="1.8" transform="rotate(43 153.4 533.5)" fill="#8c181b"/>
<ellipse cx="177.9" cy="488.4" rx="1.8" ry="1.5" transform="rotate(96 177.9 488.4)" fill="#8c181b"/>
<ellipse cx="206.3" cy="533.5" rx="2.0" ry="1.5" transform="rotate(149 206.3 533.5)" fill="#8c181b"/>
<ellipse cx="199.5" cy="548.2" rx="2.2" ry="2.1" transform="rotate(22 199.5 548.2)" fill="#8c181b"/>
<ellipse cx="171.0" cy="535.5" rx="1.6" ry="1.4" transform="rotate(75 171.0 535.5)" fill="#8c181b"/>
<ellipse cx="178.9" cy="540.4" rx="1.6" ry="1.2" transform="rotate(128 178.9 540.4)" fill="#8c181b"/>
<ellipse cx="180.8" cy="470.7" rx="1.5" ry="1.5" transform="rotate(1 180.8 470.7)" fill="#8c181b"/>
<ellipse cx="214.2" cy="474.7" rx="1.8" ry="1.6" transform="rotate(54 214.2 474.7)" fill="#8c181b"/>
<ellipse cx="168.1" cy="505.1" rx="1.5" ry="1.2" transform="rotate(107 168.1 505.1)" fill="#8c181b"/>
<ellipse cx="133.8" cy="548.2" rx="1.8" ry="1.3" transform="rotate(160 133.8 548.2)" fill="#8c181b"/>
<ellipse cx="188.7" cy="491.3" rx="1.4" ry="1.3" transform="rotate(33 188.7 491.3)" fill="#8c181b"/>
<circle cx="152.4" cy="497.2" r="2.4" fill="#f0262e"/>
<circle cx="157.3" cy="499.6" r="1.6" fill="#f0262e"/>
<circle cx="165.5" cy="486.4" r="1.5" fill="#f0262e"/>
<circle cx="142.0" cy="483.5" r="1.2" fill="#f0262e"/>
<circle cx="216.1" cy="549.2" r="2.0" fill="#f0262e"/>
<circle cx="208.3" cy="505.5" r="1.2" fill="#f0262e"/>
<circle cx="148.5" cy="470.2" r="1.3" fill="#36bc40"/>
<circle cx="147.5" cy="474.1" r="1.3" fill="#36bc40"/>
<circle cx="157.7" cy="478.0" r="1.1" fill="#2c7a2e" opacity="0.85"/>
<circle cx="145.5" cy="480.0" r="1.3" fill="#36bc40"/>
<circle cx="164.2" cy="477.2" r="1.3" fill="#36bc40"/>
<circle cx="169.1" cy="478.6" r="1.1" fill="#2c7a2e" opacity="0.85"/>
<circle cx="162.2" cy="484.5" r="1.3" fill="#36bc40"/>
<circle cx="146.5" cy="486.4" r="1.3" fill="#36bc40"/>
<circle cx="154.4" cy="487.8" r="1.1" fill="#2c7a2e" opacity="0.85"/>
<circle cx="163.2" cy="490.4" r="1.3" fill="#36bc40"/>
<circle cx="161.2" cy="492.3" r="1.3" fill="#36bc40"/>
<circle cx="166.7" cy="496.8" r="1.3" fill="#36bc40"/>
<circle cx="156.3" cy="502.1" r="1.1" fill="#2c7a2e" opacity="0.85"/>
<circle cx="191.6" cy="486.4" r="1.3" fill="#36bc40"/>
<circle cx="137.7" cy="506.0" r="1.3" fill="#36bc40"/>
<circle cx="142.6" cy="503.5" r="1.1" fill="#2c7a2e" opacity="0.85"/>
<circle cx="141.6" cy="515.5" r="1.3" fill="#36bc40"/>
<circle cx="167.1" cy="513.9" r="1.3" fill="#36bc40"/>
<circle cx="125.9" cy="483.9" r="1.1" fill="#2c7a2e" opacity="0.85"/>
<circle cx="125.9" cy="503.1" r="1.3" fill="#36bc40"/>
<circle cx="135.7" cy="491.7" r="1.3" fill="#36bc40"/>
<circle cx="201.4" cy="473.3" r="1.3" fill="#36bc40"/>
<circle cx="207.9" cy="471.7" r="1.1" fill="#2c7a2e" opacity="0.85"/>
<circle cx="204.7" cy="467.4" r="1.3" fill="#36bc40"/>
<circle cx="201.4" cy="506.6" r="1.3" fill="#36bc40"/>
<circle cx="204.0" cy="511.3" r="1.1" fill="#2c7a2e" opacity="0.85"/>
<circle cx="205.3" cy="514.5" r="1.3" fill="#36bc40"/>
<circle cx="206.7" cy="512.9" r="1.3" fill="#36bc40"/>
<circle cx="208.3" cy="515.3" r="1.1" fill="#2c7a2e" opacity="0.85"/>
<circle cx="212.6" cy="519.8" r="1.3" fill="#36bc40"/>
<circle cx="197.5" cy="520.7" r="1.3" fill="#36bc40"/>
<circle cx="193.6" cy="526.2" r="1.3" fill="#36bc40"/>
<circle cx="181.8" cy="524.7" r="1.1" fill="#2c7a2e" opacity="0.85"/>
<circle cx="174.5" cy="529.0" r="1.3" fill="#36bc40"/>
<circle cx="173.4" cy="533.5" r="1.3" fill="#36bc40"/>
<circle cx="167.5" cy="532.1" r="1.1" fill="#2c7a2e" opacity="0.85"/>
<circle cx="168.1" cy="536.0" r="1.3" fill="#36bc40"/>
<circle cx="180.4" cy="532.1" r="1.3" fill="#36bc40"/>
<circle cx="177.9" cy="540.7" r="1.1" fill="#2c7a2e" opacity="0.85"/>
<circle cx="180.8" cy="542.3" r="1.3" fill="#36bc40"/>
<circle cx="208.3" cy="538.4" r="1.3" fill="#36bc40"/>
<circle cx="206.7" cy="541.3" r="1.3" fill="#36bc40"/>
<circle cx="206.3" cy="544.3" r="1.1" fill="#2c7a2e" opacity="0.85"/>
<circle cx="212.2" cy="536.4" r="1.3" fill="#36bc40"/>
<circle cx="124.4" cy="533.5" r="1.3" fill="#36bc40"/>
<circle cx="125.9" cy="542.7" r="1.1" fill="#2c7a2e" opacity="0.85"/>
<circle cx="166.1" cy="550.2" r="1.3" fill="#36bc40"/>
<circle cx="174.9" cy="553.7" r="1.3" fill="#36bc40"/>
<circle cx="189.6" cy="552.5" r="1.1" fill="#2c7a2e" opacity="0.85"/>
<circle cx="217.1" cy="510.0" r="1.3" fill="#36bc40"/>
<circle cx="188.7" cy="507.0" r="1.3" fill="#36bc40"/>
</g></g>
<rect x="221.5" y="460" width="98.5" height="95" fill="#401212" />
<g clip-path="url(#cd2)">
<g filter="url(#b2)">
<circle cx="282.9" cy="530.5" r="2.7" fill="#7a1418" opacity="0.75"/>
<circle cx="304.3" cy="533.7" r="1.8" fill="#7a1418" opacity="0.75"/>
<circle cx="310.2" cy="470.8" r="2.2" fill="#8a1a1c" opacity="0.75"/>
<circle cx="259.0" cy="469.7" r="1.8" fill="#8a1a1c" opacity="0.75"/>
<circle cx="261.7" cy="477.3" r="2.8" fill="#801619" opacity="0.75"/>
<circle cx="237.2" cy="535.7" r="1.6" fill="#801619" opacity="0.75"/>
<circle cx="234.0" cy="460.2" r="2.8" fill="#8a1a1c" opacity="0.75"/>
<circle cx="297.7" cy="551.2" r="1.7" fill="#8a1a1c" opacity="0.75"/>
<circle cx="250.0" cy="551.3" r="2.3" fill="#8a1a1c" opacity="0.75"/>
<circle cx="239.4" cy="552.0" r="1.7" fill="#801619" opacity="0.75"/>
<circle cx="250.9" cy="494.3" r="1.7" fill="#8a1a1c" opacity="0.75"/>
<circle cx="247.5" cy="491.5" r="2.7" fill="#7a1418" opacity="0.75"/>
<circle cx="280.2" cy="527.2" r="1.5" fill="#6a1416" opacity="0.75"/>
<circle cx="302.1" cy="505.7" r="1.9" fill="#801619" opacity="0.75"/>
<circle cx="268.0" cy="476.7" r="1.8" fill="#7a1418" opacity="0.75"/>
<circle cx="315.0" cy="494.0" r="2.0" fill="#801619" opacity="0.75"/>
<circle cx="257.6" cy="515.0" r="1.4" fill="#7a1418" opacity="0.75"/>
<circle cx="291.2" cy="519.3" r="2.9" fill="#7a1418" opacity="0.75"/>
<circle cx="295.9" cy="548.3" r="2.9" fill="#6a1416" opacity="0.75"/>
<circle cx="272.0" cy="544.8" r="1.8" fill="#801619" opacity="0.75"/>
<circle cx="232.1" cy="531.1" r="2.7" fill="#6a1416" opacity="0.75"/>
<circle cx="225.1" cy="549.9" r="1.5" fill="#6a1416" opacity="0.75"/>
<circle cx="272.0" cy="494.4" r="1.6" fill="#6a1416" opacity="0.75"/>
<circle cx="312.5" cy="511.8" r="1.9" fill="#6a1416" opacity="0.75"/>
<circle cx="251.7" cy="535.9" r="2.4" fill="#6a1416" opacity="0.75"/>
<circle cx="319.7" cy="475.3" r="1.5" fill="#801619" opacity="0.75"/>
<circle cx="224.6" cy="530.4" r="2.0" fill="#6a1416" opacity="0.75"/>
<circle cx="266.4" cy="500.1" r="1.5" fill="#7a1418" opacity="0.75"/>
<circle cx="300.5" cy="491.7" r="1.7" fill="#8a1a1c" opacity="0.75"/>
<circle cx="283.6" cy="534.9" r="1.6" fill="#801619" opacity="0.75"/>
<circle cx="258.2" cy="465.6" r="2.1" fill="#8a1a1c" opacity="0.75"/>
<circle cx="266.1" cy="554.9" r="2.8" fill="#801619" opacity="0.75"/>
<circle cx="316.1" cy="525.4" r="1.9" fill="#6a1416" opacity="0.75"/>
<circle cx="250.2" cy="498.4" r="1.6" fill="#801619" opacity="0.75"/>
<circle cx="302.5" cy="510.5" r="1.7" fill="#801619" opacity="0.75"/>
<circle cx="307.0" cy="477.1" r="2.2" fill="#6a1416" opacity="0.75"/>
<circle cx="227.7" cy="535.5" r="2.0" fill="#7a1418" opacity="0.75"/>
<circle cx="296.3" cy="494.5" r="2.5" fill="#6a1416" opacity="0.75"/>
<circle cx="303.8" cy="485.2" r="3.0" fill="#6a1416" opacity="0.75"/>
<circle cx="315.8" cy="492.3" r="1.7" fill="#7a1418" opacity="0.75"/>
<circle cx="268.2" cy="533.5" r="1.9" fill="#6a1416" opacity="0.75"/>
<circle cx="267.1" cy="537.6" r="2.4" fill="#6a1416" opacity="0.75"/>
<circle cx="255.8" cy="521.2" r="2.6" fill="#801619" opacity="0.75"/>
<circle cx="256.0" cy="540.1" r="2.8" fill="#801619" opacity="0.75"/>
<circle cx="317.6" cy="550.9" r="2.2" fill="#8a1a1c" opacity="0.75"/>
<circle cx="241.1" cy="494.4" r="2.8" fill="#6a1416" opacity="0.75"/>
<circle cx="289.6" cy="528.4" r="2.6" fill="#8a1a1c" opacity="0.75"/>
<circle cx="282.3" cy="548.9" r="2.2" fill="#801619" opacity="0.75"/>
<circle cx="251.3" cy="512.6" r="2.8" fill="#6a1416" opacity="0.75"/>
<circle cx="292.5" cy="462.6" r="1.7" fill="#801619" opacity="0.75"/>
<circle cx="283.0" cy="477.2" r="2.6" fill="#8a1a1c" opacity="0.75"/>
<circle cx="283.6" cy="464.0" r="2.2" fill="#8a1a1c" opacity="0.75"/>
<circle cx="237.8" cy="544.7" r="1.6" fill="#8a1a1c" opacity="0.75"/>
<circle cx="269.0" cy="512.1" r="2.1" fill="#6a1416" opacity="0.75"/>
<circle cx="259.0" cy="518.1" r="2.3" fill="#8a1a1c" opacity="0.75"/>
<circle cx="292.2" cy="495.5" r="2.0" fill="#6a1416" opacity="0.75"/>
<circle cx="305.8" cy="542.3" r="2.5" fill="#6a1416" opacity="0.75"/>
<circle cx="316.5" cy="512.2" r="1.9" fill="#6a1416" opacity="0.75"/>
<circle cx="275.2" cy="492.2" r="2.3" fill="#6a1416" opacity="0.75"/>
<circle cx="302.1" cy="499.8" r="2.7" fill="#6a1416" opacity="0.75"/>
<circle cx="267.5" cy="474.9" r="2.0" fill="#801619" opacity="0.75"/>
<circle cx="315.8" cy="552.0" r="2.4" fill="#6a1416" opacity="0.75"/>
<circle cx="302.4" cy="522.9" r="2.0" fill="#6a1416" opacity="0.75"/>
<circle cx="277.2" cy="518.4" r="1.6" fill="#801619" opacity="0.75"/>
<circle cx="263.8" cy="552.8" r="2.2" fill="#801619" opacity="0.75"/>
<circle cx="317.3" cy="496.1" r="2.9" fill="#8a1a1c" opacity="0.75"/>
<circle cx="280.2" cy="484.7" r="3.0" fill="#801619" opacity="0.75"/>
<circle cx="246.2" cy="461.9" r="2.9" fill="#6a1416" opacity="0.75"/>
<circle cx="269.9" cy="487.2" r="2.2" fill="#7a1418" opacity="0.75"/>
<circle cx="286.5" cy="551.3" r="1.8" fill="#7a1418" opacity="0.75"/>
<circle cx="298.5" cy="538.5" r="1.4" fill="#6a1416" opacity="0.75"/>
<circle cx="245.5" cy="505.1" r="1.5" fill="#801619" opacity="0.75"/>
<circle cx="247.9" cy="474.7" r="3.0" fill="#6a1416" opacity="0.75"/>
<circle cx="270.0" cy="554.3" r="2.2" fill="#7a1418" opacity="0.75"/>
<circle cx="223.1" cy="472.0" r="1.9" fill="#6a1416" opacity="0.75"/>
<circle cx="281.9" cy="529.5" r="1.4" fill="#6a1416" opacity="0.75"/>
<circle cx="257.1" cy="530.8" r="2.3" fill="#7a1418" opacity="0.75"/>
<circle cx="221.8" cy="512.6" r="2.5" fill="#7a1418" opacity="0.75"/>
<circle cx="309.0" cy="511.8" r="1.4" fill="#801619" opacity="0.75"/>
<circle cx="280.1" cy="525.5" r="2.9" fill="#801619" opacity="0.75"/>
<circle cx="306.1" cy="539.9" r="2.2" fill="#8a1a1c" opacity="0.75"/>
<circle cx="310.0" cy="504.2" r="2.6" fill="#6a1416" opacity="0.75"/>
<circle cx="303.9" cy="526.0" r="2.1" fill="#6a1416" opacity="0.75"/>
<circle cx="285.4" cy="504.9" r="1.9" fill="#8a1a1c" opacity="0.75"/>
<circle cx="268.6" cy="512.2" r="2.2" fill="#6a1416" opacity="0.75"/>
<circle cx="274.5" cy="500.4" r="2.3" fill="#7a1418" opacity="0.75"/>
<circle cx="228.2" cy="481.9" r="2.7" fill="#7a1418" opacity="0.75"/>
<circle cx="286.9" cy="462.4" r="2.6" fill="#7a1418" opacity="0.75"/>
<circle cx="319.8" cy="526.6" r="1.5" fill="#7a1418" opacity="0.75"/>
<circle cx="243.1" cy="521.3" r="2.9" fill="#8a1a1c" opacity="0.75"/>
<circle cx="319.4" cy="527.0" r="2.1" fill="#8a1a1c" opacity="0.75"/>
<circle cx="281.6" cy="499.3" r="1.7" fill="#8a1a1c" opacity="0.75"/>
<circle cx="225.8" cy="470.3" r="2.0" fill="#7a1418" opacity="0.75"/>
<circle cx="249.1" cy="514.3" r="1.6" fill="#801619" opacity="0.75"/>
<circle cx="308.0" cy="472.8" r="2.1" fill="#6a1416" opacity="0.75"/>
</g><g filter="url(#b1)">
<ellipse cx="289.0" cy="506.5" rx="1.3" ry="1.2" fill="#a3181e" opacity="0.9"/>
<ellipse cx="235.1" cy="488.0" rx="1.5" ry="1.5" fill="#a3181e" opacity="0.9"/>
<ellipse cx="276.2" cy="519.0" rx="1.2" ry="0.8" fill="#c01c24" opacity="0.9"/>
<ellipse cx="295.4" cy="509.1" rx="1.0" ry="1.0" fill="#c01c24" opacity="0.9"/>
<ellipse cx="266.2" cy="496.9" rx="1.0" ry="0.9" fill="#b01a20" opacity="0.9"/>
<ellipse cx="229.9" cy="523.5" rx="1.0" ry="0.8" fill="#b01a20" opacity="0.9"/>
<ellipse cx="266.2" cy="497.0" rx="1.4" ry="0.9" fill="#a3181e" opacity="0.9"/>
<ellipse cx="273.8" cy="511.5" rx="1.3" ry="1.3" fill="#c01c24" opacity="0.9"/>
<ellipse cx="263.8" cy="535.5" rx="1.7" ry="1.7" fill="#b01a20" opacity="0.9"/>
<ellipse cx="287.0" cy="538.0" rx="1.1" ry="0.8" fill="#cc2028" opacity="0.9"/>
<ellipse cx="244.6" cy="491.7" rx="1.6" ry="1.4" fill="#a3181e" opacity="0.9"/>
<ellipse cx="258.7" cy="528.7" rx="1.3" ry="1.2" fill="#a3181e" opacity="0.9"/>
<ellipse cx="264.2" cy="540.9" rx="1.5" ry="1.3" fill="#c01c24" opacity="0.9"/>
<ellipse cx="260.5" cy="469.2" rx="0.9" ry="0.6" fill="#c01c24" opacity="0.9"/>
<ellipse cx="269.8" cy="549.0" rx="1.6" ry="1.0" fill="#a3181e" opacity="0.9"/>
<ellipse cx="267.8" cy="544.5" rx="1.6" ry="1.2" fill="#cc2028" opacity="0.9"/>
<ellipse cx="267.0" cy="478.2" rx="1.6" ry="1.2" fill="#b01a20" opacity="0.9"/>
<ellipse cx="259.5" cy="543.6" rx="1.1" ry="0.7" fill="#a3181e" opacity="0.9"/>
<ellipse cx="302.1" cy="531.3" rx="1.6" ry="1.3" fill="#b01a20" opacity="0.9"/>
<ellipse cx="224.7" cy="547.8" rx="1.3" ry="1.1" fill="#b01a20" opacity="0.9"/>
<ellipse cx="287.9" cy="504.8" rx="1.9" ry="1.8" fill="#b01a20" opacity="0.9"/>
<ellipse cx="253.4" cy="503.1" rx="1.2" ry="0.7" fill="#c01c24" opacity="0.9"/>
<ellipse cx="291.9" cy="514.6" rx="1.6" ry="1.6" fill="#cc2028" opacity="0.9"/>
<ellipse cx="291.1" cy="524.6" rx="1.1" ry="0.8" fill="#a3181e" opacity="0.9"/>
<ellipse cx="293.6" cy="528.2" rx="1.1" ry="0.7" fill="#c01c24" opacity="0.9"/>
<ellipse cx="242.1" cy="464.2" rx="1.6" ry="0.9" fill="#a3181e" opacity="0.9"/>
<ellipse cx="227.5" cy="534.0" rx="1.4" ry="0.8" fill="#b01a20" opacity="0.9"/>
<ellipse cx="303.8" cy="539.5" rx="1.5" ry="1.3" fill="#b01a20" opacity="0.9"/>
<ellipse cx="244.8" cy="536.3" rx="1.0" ry="0.6" fill="#cc2028" opacity="0.9"/>
<ellipse cx="245.5" cy="464.8" rx="1.3" ry="0.8" fill="#b01a20" opacity="0.9"/>
<ellipse cx="303.6" cy="502.4" rx="1.6" ry="1.6" fill="#b01a20" opacity="0.9"/>
<ellipse cx="240.7" cy="526.1" rx="1.6" ry="1.3" fill="#c01c24" opacity="0.9"/>
<ellipse cx="229.8" cy="489.8" rx="1.0" ry="0.9" fill="#c01c24" opacity="0.9"/>
<ellipse cx="305.9" cy="480.4" rx="0.9" ry="0.7" fill="#a3181e" opacity="0.9"/>
<ellipse cx="277.8" cy="495.8" rx="1.6" ry="1.5" fill="#b01a20" opacity="0.9"/>
<ellipse cx="251.8" cy="502.7" rx="1.8" ry="1.5" fill="#c01c24" opacity="0.9"/>
<ellipse cx="235.2" cy="505.9" rx="1.8" ry="1.6" fill="#a3181e" opacity="0.9"/>
<ellipse cx="252.3" cy="472.3" rx="1.0" ry="0.9" fill="#c01c24" opacity="0.9"/>
<ellipse cx="300.2" cy="551.9" rx="1.6" ry="1.0" fill="#a3181e" opacity="0.9"/>
<ellipse cx="290.5" cy="464.6" rx="1.1" ry="1.1" fill="#a3181e" opacity="0.9"/>
<ellipse cx="308.7" cy="466.8" rx="1.7" ry="1.6" fill="#cc2028" opacity="0.9"/>
<ellipse cx="276.3" cy="545.1" rx="1.6" ry="1.3" fill="#c01c24" opacity="0.9"/>
<ellipse cx="265.1" cy="537.6" rx="1.6" ry="1.4" fill="#b01a20" opacity="0.9"/>
<ellipse cx="290.6" cy="485.4" rx="1.8" ry="1.5" fill="#cc2028" opacity="0.9"/>
<ellipse cx="253.1" cy="489.1" rx="1.1" ry="0.9" fill="#cc2028" opacity="0.9"/>
<ellipse cx="225.5" cy="462.9" rx="2.76" ry="1.9" transform="rotate(0 225.5 462.9)" fill="#c81e26"/>
<ellipse cx="266.1" cy="466.8" rx="2.53" ry="2.3" transform="rotate(53 266.1 466.8)" fill="#c81e26"/>
<ellipse cx="286.7" cy="471.7" rx="2.76" ry="2.3" transform="rotate(106 286.7 471.7)" fill="#c81e26"/>
<ellipse cx="233.7" cy="487.4" rx="2.99" ry="2.2" transform="rotate(159 233.7 487.4)" fill="#c81e26"/>
<ellipse cx="289.6" cy="483.1" rx="2.99" ry="2.8" transform="rotate(32 289.6 483.1)" fill="#c81e26"/>
<ellipse cx="278.8" cy="484.5" rx="2.53" ry="2.2" transform="rotate(85 278.8 484.5)" fill="#c81e26"/>
<ellipse cx="314.1" cy="490.4" rx="2.99" ry="2.3" transform="rotate(138 314.1 490.4)" fill="#c81e26"/>
<ellipse cx="231.8" cy="511.9" rx="2.76" ry="2.7" transform="rotate(11 231.8 511.9)" fill="#c81e26"/>
<ellipse cx="229.8" cy="518.8" rx="2.3" ry="2.0" transform="rotate(64 229.8 518.8)" fill="#c81e26"/>
<ellipse cx="247.5" cy="500.2" rx="2.3" ry="1.8" transform="rotate(117 247.5 500.2)" fill="#c81e26"/>
<ellipse cx="240.6" cy="520.7" rx="2.3" ry="1.6" transform="rotate(170 240.6 520.7)" fill="#c81e26"/>
<ellipse cx="277.8" cy="504.1" rx="2.53" ry="2.3" transform="rotate(43 277.8 504.1)" fill="#c81e26"/>
<ellipse cx="272.0" cy="514.9" rx="2.3" ry="1.9" transform="rotate(96 272.0 514.9)" fill="#c81e26"/>
<ellipse cx="231.8" cy="545.3" rx="2.76" ry="2.0" transform="rotate(149 231.8 545.3)" fill="#c81e26"/>
<ellipse cx="253.3" cy="548.2" rx="2.53" ry="2.4" transform="rotate(22 253.3 548.2)" fill="#c81e26"/>
<ellipse cx="271.0" cy="549.2" rx="2.53" ry="2.2" transform="rotate(75 271.0 549.2)" fill="#c81e26"/>
<ellipse cx="304.3" cy="503.1" rx="2.3" ry="1.7" transform="rotate(128 304.3 503.1)" fill="#c81e26"/>
<ellipse cx="299.4" cy="544.3" rx="2.53" ry="2.5" transform="rotate(1 299.4 544.3)" fill="#c81e26"/>
<ellipse cx="314.1" cy="534.5" rx="2.53" ry="2.2" transform="rotate(54 314.1 534.5)" fill="#c81e26"/>
<ellipse cx="250.4" cy="537.4" rx="2.07" ry="1.6" transform="rotate(107 250.4 537.4)" fill="#c81e26"/>
<ellipse cx="228.8" cy="503.1" rx="2.07" ry="1.4" transform="rotate(160 228.8 503.1)" fill="#c81e26"/>
<ellipse cx="304.3" cy="475.6" rx="2.07" ry="1.9" transform="rotate(33 304.3 475.6)" fill="#c81e26"/>
<ellipse cx="261.2" cy="485.5" rx="2.07" ry="1.7" transform="rotate(86 261.2 485.5)" fill="#c81e26"/>
<ellipse cx="268.0" cy="531.5" rx="2.3" ry="1.7" transform="rotate(139 268.0 531.5)" fill="#c81e26"/>
<ellipse cx="286.7" cy="514.9" rx="2.07" ry="1.9" transform="rotate(12 286.7 514.9)" fill="#c81e26"/>
<ellipse cx="302.4" cy="520.7" rx="2.3" ry="2.0" transform="rotate(65 302.4 520.7)" fill="#c81e26"/>
<ellipse cx="243.5" cy="470.7" rx="2.07" ry="1.6" transform="rotate(118 243.5 470.7)" fill="#c81e26"/>
<ellipse cx="294.5" cy="532.5" rx="2.07" ry="2.0" transform="rotate(171 294.5 532.5)" fill="#c81e26"/>
<ellipse cx="318.0" cy="516.8" rx="2.07" ry="1.8" transform="rotate(44 318.0 516.8)" fill="#c81e26"/>
<ellipse cx="256.3" cy="516.8" rx="1.84" ry="1.5" transform="rotate(97 256.3 516.8)" fill="#c81e26"/>
<ellipse cx="280.8" cy="544.3" rx="2.07" ry="1.4" transform="rotate(150 280.8 544.3)" fill="#c81e26"/>
<ellipse cx="223.9" cy="483.5" rx="2.07" ry="1.9" transform="rotate(23 223.9 483.5)" fill="#c81e26"/>
<circle cx="276.9" cy="466.2" r="2.4" fill="#f0262e"/>
<circle cx="279.8" cy="463.9" r="1.6" fill="#f0262e"/>
<circle cx="251.4" cy="466.8" r="2.0" fill="#f0262e"/>
<circle cx="255.7" cy="465.5" r="1.4" fill="#f0262e"/>
<circle cx="241.2" cy="483.9" r="1.8" fill="#f0262e"/>
<circle cx="284.7" cy="487.0" r="1.7" fill="#f0262e"/>
<circle cx="278.8" cy="483.5" r="1.4" fill="#f0262e"/>
<circle cx="296.1" cy="505.5" r="1.6" fill="#f0262e"/>
<circle cx="283.7" cy="527.0" r="2.0" fill="#f0262e"/>
<circle cx="272.9" cy="524.7" r="1.2" fill="#f0262e"/>
<circle cx="223.9" cy="529.0" r="1.5" fill="#f0262e"/>
<circle cx="317.1" cy="542.7" r="1.5" fill="#f0262e"/>
<circle cx="295.5" cy="499.2" r="1.2" fill="#f0262e"/>
<circle cx="243.5" cy="487.4" r="1.2" fill="#f0262e"/>
<circle cx="320.4" cy="485.8" r="1.4" fill="#f0262e"/>
<circle cx="262.2" cy="554.1" r="1.4" fill="#f0262e"/>
<circle cx="269.0" cy="462.9" r="1.1" fill="#2c7a2e" opacity="0.85"/>
<circle cx="261.6" cy="464.3" r="1.1" fill="#2c7a2e" opacity="0.85"/>
<circle cx="235.7" cy="464.9" r="1.1" fill="#2c7a2e" opacity="0.85"/>
<circle cx="301.4" cy="464.9" r="1.1" fill="#2c7a2e" opacity="0.85"/>
<circle cx="306.3" cy="472.1" r="1.1" fill="#2c7a2e" opacity="0.85"/>
<circle cx="311.2" cy="472.7" r="1.3" fill="#36bc40"/>
<circle cx="319.0" cy="482.5" r="1.1" fill="#2c7a2e" opacity="0.85"/>
<circle cx="297.5" cy="478.6" r="1.1" fill="#2c7a2e" opacity="0.85"/>
<circle cx="298.4" cy="483.1" r="1.3" fill="#36bc40"/>
<circle cx="249.4" cy="490.4" r="1.1" fill="#2c7a2e" opacity="0.85"/>
<circle cx="253.3" cy="494.3" r="1.1" fill="#2c7a2e" opacity="0.85"/>
<circle cx="264.1" cy="489.4" r="1.1" fill="#2c7a2e" opacity="0.85"/>
<circle cx="271.4" cy="488.4" r="1.1" fill="#2c7a2e" opacity="0.85"/>
<circle cx="272.9" cy="492.3" r="1.1" fill="#2c7a2e" opacity="0.85"/>
<circle cx="239.6" cy="499.2" r="1.1" fill="#2c7a2e" opacity="0.85"/>
<circle cx="241.6" cy="508.0" r="1.3" fill="#36bc40"/>
<circle cx="297.5" cy="492.9" r="1.1" fill="#2c7a2e" opacity="0.85"/>
<circle cx="300.4" cy="497.2" r="1.1" fill="#2c7a2e" opacity="0.85"/>
<circle cx="286.7" cy="497.2" r="1.3" fill="#36bc40"/>
<circle cx="224.9" cy="523.7" r="1.1" fill="#2c7a2e" opacity="0.85"/>
<circle cx="228.8" cy="524.7" r="1.1" fill="#2c7a2e" opacity="0.85"/>
<circle cx="256.3" cy="520.7" r="1.1" fill="#2c7a2e" opacity="0.85"/>
<circle cx="260.2" cy="530.2" r="1.1" fill="#2c7a2e" opacity="0.85"/>
<circle cx="263.5" cy="532.1" r="1.1" fill="#2c7a2e" opacity="0.85"/>
<circle cx="273.9" cy="526.6" r="1.1" fill="#2c7a2e" opacity="0.85"/>
<circle cx="245.9" cy="527.6" r="1.3" fill="#36bc40"/>
<circle cx="282.7" cy="533.5" r="1.1" fill="#2c7a2e" opacity="0.85"/>
<circle cx="302.4" cy="529.6" r="1.1" fill="#2c7a2e" opacity="0.85"/>
<circle cx="306.3" cy="524.7" r="1.3" fill="#36bc40"/>
<circle cx="310.6" cy="527.0" r="1.1" fill="#2c7a2e" opacity="0.85"/>
<circle cx="288.6" cy="547.2" r="1.1" fill="#2c7a2e" opacity="0.85"/>
<circle cx="297.5" cy="547.2" r="1.1" fill="#2c7a2e" opacity="0.85"/>
<circle cx="264.1" cy="550.2" r="1.1" fill="#2c7a2e" opacity="0.85"/>
<circle cx="314.1" cy="527.6" r="1.1" fill="#2c7a2e" opacity="0.85"/>
<circle cx="318.0" cy="535.5" r="1.1" fill="#2c7a2e" opacity="0.85"/>
<circle cx="310.2" cy="504.1" r="1.3" fill="#36bc40"/>
<circle cx="316.1" cy="497.2" r="1.1" fill="#2c7a2e" opacity="0.85"/>
</g></g>
<rect x="321.75" y="460" width="98.25" height="95" fill="#3b1110" />
<g clip-path="url(#cd3)">
<rect x="321.75" y="460" width="98.25" height="40" fill="#48130f" filter="url(#b8)"/>
<ellipse cx="368" cy="461" rx="24" ry="9" fill="#7a1216" filter="url(#b3)"/>
<ellipse cx="338" cy="548" rx="24" ry="16" fill="#2c0c0c" filter="url(#b8)"/>
<g filter="url(#b2)">
<circle cx="367.2" cy="495.5" r="1.6" fill="#7a1418" opacity="0.75"/>
<circle cx="355.0" cy="504.1" r="2.4" fill="#6a1416" opacity="0.75"/>
<circle cx="376.2" cy="518.6" r="1.5" fill="#801619" opacity="0.75"/>
<circle cx="338.4" cy="549.9" r="2.9" fill="#801619" opacity="0.75"/>
<circle cx="337.2" cy="482.6" r="1.6" fill="#7a1418" opacity="0.75"/>
<circle cx="397.8" cy="496.4" r="2.6" fill="#7a1418" opacity="0.75"/>
<circle cx="412.0" cy="479.5" r="1.8" fill="#801619" opacity="0.75"/>
<circle cx="409.2" cy="533.4" r="2.9" fill="#801619" opacity="0.75"/>
<circle cx="349.4" cy="536.9" r="1.7" fill="#7a1418" opacity="0.75"/>
<circle cx="408.1" cy="465.2" r="2.0" fill="#801619" opacity="0.75"/>
<circle cx="335.4" cy="482.5" r="2.6" fill="#7a1418" opacity="0.75"/>
<circle cx="416.5" cy="460.4" r="2.6" fill="#8a1a1c" opacity="0.75"/>
<circle cx="409.7" cy="479.3" r="1.4" fill="#7a1418" opacity="0.75"/>
<circle cx="334.8" cy="547.2" r="2.2" fill="#801619" opacity="0.75"/>
</g><g filter="url(#b1)">
<ellipse cx="382.7" cy="499.2" rx="2.4" ry="1.7" transform="rotate(0 382.7 499.2)" fill="#b81c22"/>
<ellipse cx="400.4" cy="500.2" rx="2.2" ry="2.0" transform="rotate(53 400.4 500.2)" fill="#b81c22"/>
<ellipse cx="366.7" cy="519.8" rx="2.6" ry="2.1" transform="rotate(106 366.7 519.8)" fill="#b81c22"/>
<ellipse cx="404.3" cy="472.7" rx="2.6" ry="1.9" transform="rotate(159 404.3 472.7)" fill="#b81c22"/>
<ellipse cx="332.7" cy="508.0" rx="2.2" ry="2.1" transform="rotate(32 332.7 508.0)" fill="#b81c22"/>
<ellipse cx="336.7" cy="483.5" rx="2.0" ry="1.7" transform="rotate(85 336.7 483.5)" fill="#b81c22"/>
<ellipse cx="331.8" cy="491.3" rx="1.8" ry="1.4" transform="rotate(138 331.8 491.3)" fill="#b81c22"/>
<ellipse cx="394.5" cy="493.3" rx="1.2" ry="1.2" transform="rotate(11 394.5 493.3)" fill="#b81c22"/>
<ellipse cx="343.5" cy="512.9" rx="1.2" ry="1.1" transform="rotate(64 343.5 512.9)" fill="#b81c22"/>
<ellipse cx="403.3" cy="505.1" rx="1.2" ry="0.9" transform="rotate(117 403.3 505.1)" fill="#b81c22"/>
<ellipse cx="340.6" cy="497.2" rx="1.0" ry="0.7" transform="rotate(170 340.6 497.2)" fill="#b81c22"/>
<ellipse cx="412.2" cy="483.5" rx="1.0" ry="0.9" transform="rotate(43 412.2 483.5)" fill="#b81c22"/>
<ellipse cx="347.5" cy="522.7" rx="1.0" ry="0.8" transform="rotate(96 347.5 522.7)" fill="#b81c22"/>
<ellipse cx="370.0" cy="554.1" rx="1.2" ry="0.9" transform="rotate(149 370.0 554.1)" fill="#b81c22"/>
<ellipse cx="384.7" cy="527.6" rx="1.0" ry="0.9" transform="rotate(22 384.7 527.6)" fill="#b81c22"/>
<ellipse cx="379.8" cy="510.0" rx="1.0" ry="0.8" transform="rotate(75 379.8 510.0)" fill="#b81c22"/>
<ellipse cx="353.3" cy="542.3" rx="1.0" ry="0.8" transform="rotate(128 353.3 542.3)" fill="#b81c22"/>
<circle cx="416.5" cy="543.3" r="1.6" fill="#f0262e"/>
<circle cx="378.8" cy="491.7" r="0.8" fill="#f0262e"/>
<circle cx="366.1" cy="483.5" r="0.8" fill="#f0262e"/>
<circle cx="398.4" cy="462.3" r="1.1" fill="#4d5a1c" opacity="0.85"/>
<circle cx="403.3" cy="462.9" r="1.1" fill="#4d5a1c" opacity="0.85"/>
<circle cx="399.4" cy="467.4" r="1.1" fill="#4d5a1c" opacity="0.85"/>
<circle cx="408.6" cy="468.2" r="1.1" fill="#4d5a1c" opacity="0.85"/>
<circle cx="396.1" cy="472.1" r="1.1" fill="#4d5a1c" opacity="0.85"/>
<circle cx="398.4" cy="476.6" r="1.1" fill="#4d5a1c" opacity="0.85"/>
<circle cx="402.0" cy="476.6" r="1.1" fill="#4d5a1c" opacity="0.85"/>
<circle cx="404.7" cy="475.3" r="1.1" fill="#4d5a1c" opacity="0.85"/>
<circle cx="411.2" cy="476.6" r="1.1" fill="#4d5a1c" opacity="0.85"/>
<circle cx="331.8" cy="475.3" r="1.1" fill="#4d5a1c" opacity="0.85"/>
<circle cx="334.1" cy="477.6" r="1.1" fill="#4d5a1c" opacity="0.85"/>
<circle cx="330.8" cy="481.9" r="1.1" fill="#4d5a1c" opacity="0.85"/>
<circle cx="326.9" cy="487.0" r="1.1" fill="#4d5a1c" opacity="0.85"/>
<circle cx="328.8" cy="491.3" r="1.1" fill="#4d5a1c" opacity="0.85"/>
<circle cx="332.2" cy="497.2" r="1.1" fill="#4d5a1c" opacity="0.85"/>
<circle cx="345.5" cy="493.3" r="1.1" fill="#4d5a1c" opacity="0.85"/>
<circle cx="344.5" cy="496.2" r="1.1" fill="#4d5a1c" opacity="0.85"/>
<circle cx="351.4" cy="487.0" r="1.1" fill="#4d5a1c" opacity="0.85"/>
<circle cx="375.3" cy="490.4" r="1.1" fill="#4d5a1c" opacity="0.85"/>
<circle cx="365.5" cy="496.8" r="1.1" fill="#4d5a1c" opacity="0.85"/>
<circle cx="328.8" cy="508.6" r="1.1" fill="#4d5a1c" opacity="0.85"/>
<circle cx="337.6" cy="509.4" r="1.1" fill="#4d5a1c" opacity="0.85"/>
<circle cx="360.6" cy="512.5" r="1.1" fill="#4d5a1c" opacity="0.85"/>
<circle cx="360.8" cy="515.3" r="1.1" fill="#4d5a1c" opacity="0.85"/>
<circle cx="360.2" cy="520.7" r="1.1" fill="#4d5a1c" opacity="0.85"/>
<circle cx="358.8" cy="525.3" r="1.1" fill="#4d5a1c" opacity="0.85"/>
<circle cx="366.1" cy="524.7" r="1.1" fill="#4d5a1c" opacity="0.85"/>
<circle cx="391.6" cy="481.9" r="1.1" fill="#4d5a1c" opacity="0.85"/>
<circle cx="416.1" cy="533.5" r="1.1" fill="#4d5a1c" opacity="0.85"/>
<circle cx="413.1" cy="548.6" r="1.1" fill="#4d5a1c" opacity="0.85"/>
<circle cx="322.9" cy="470.7" r="1.1" fill="#4d5a1c" opacity="0.85"/>
<circle cx="325.9" cy="513.9" r="1.1" fill="#4d5a1c" opacity="0.85"/>
</g></g>
<g filter="url(#b1)" clip-path="url(#cd3)">
<circle cx="398.4" cy="462.3" r="1.15" fill="#30b03a" />
<circle cx="403.3" cy="462.9" r="1.15" fill="#30b03a" />
<circle cx="408.6" cy="468.2" r="1.15" fill="#30b03a" />
<circle cx="398.4" cy="476.6" r="1.15" fill="#30b03a" />
<circle cx="402.0" cy="476.6" r="1.15" fill="#30b03a" />
<circle cx="404.7" cy="475.3" r="1.15" fill="#30b03a" />
<circle cx="411.2" cy="476.6" r="1.15" fill="#30b03a" />
<circle cx="375.3" cy="490.4" r="1.15" fill="#30b03a" />
<circle cx="360.6" cy="512.5" r="1.15" fill="#30b03a" />
<circle cx="360.8" cy="515.3" r="1.15" fill="#30b03a" />
<circle cx="360.2" cy="520.7" r="1.15" fill="#30b03a" />
<circle cx="366.1" cy="524.7" r="1.15" fill="#30b03a" />
<circle cx="331.8" cy="475.3" r="1.15" fill="#30b03a" />
<circle cx="328.8" cy="508.6" r="1.15" fill="#30b03a" />
</g>
<rect x="161.4" y="523.6" width="25" height="24" fill="none" stroke="#fff" stroke-width="1.2" stroke-dasharray="8.2 1.5 1.2 1.5"/>
<rect x="265.2" y="509.8" width="25" height="24" fill="none" stroke="#fff" stroke-width="1.2" stroke-dasharray="8.2 1.5 1.2 1.5"/>
<rect x="392.5" y="543" width="18" height="1.5" fill="#fff" />
<text x="400.7" y="538.8" font-size="7.2" text-anchor="middle" font-weight="normal" fill="#fff" textLength="20" lengthAdjust="spacingAndGlyphs" >10 µM</text>
<rect x="140.8" y="564" width="61.3" height="59" fill="#3a1412" />
<g clip-path="url(#ci1)">
<g filter="url(#b3)">
<circle cx="152.3" cy="579.6" r="7" fill="#5e1516" />
<circle cx="182.6" cy="571.0" r="7" fill="#5e1516" />
<circle cx="156.6" cy="608.5" r="8" fill="#5e1516" />
<circle cx="182.6" cy="614.3" r="8" fill="#5e1516" />
<circle cx="195.6" cy="607.1" r="6" fill="#5e1516" />
<circle cx="165.3" cy="572.4" r="5" fill="#5e1516" />
<circle cx="149.4" cy="599.8" r="6" fill="#5e1516" />
<circle cx="198.5" cy="586.9" r="5" fill="#5e1516" />
</g><g filter="url(#b2)">
<circle cx="166.7" cy="596.2" r="4.2" fill="#b01a2a" />
<circle cx="182.6" cy="615.0" r="3" fill="#8a1a1c" />
</g><g filter="url(#b15)">
<circle cx="193.0" cy="570.7" r="2.9" fill="#3fae4e" />
<circle cx="174.0" cy="580.4" r="2.9" fill="#43b853" />
<circle cx="154.5" cy="587.9" r="2.3" fill="#3a8a3c" />
<circle cx="189.8" cy="588.3" r="2.6" fill="#3f9a46" />
<circle cx="174.7" cy="592.9" r="2.9" fill="#3fae4e" />
<circle cx="158.1" cy="596.7" r="2.8" fill="#40b050" />
<circle cx="160.3" cy="599.8" r="1.6" fill="#3da84a" />
<circle cx="173.4" cy="603.0" r="2.5" fill="#3a9a44" />
<circle cx="189.1" cy="612.5" r="3.1" fill="#4a8a34" />
<circle cx="170.4" cy="584.7" r="2.4" fill="#4a6a22" />
<circle cx="182.9" cy="608.2" r="2.8" fill="#8a9a34" />
<circle cx="183.7" cy="607.8" r="1.1" fill="#d08a30" />
</g></g>
<rect x="140.8" y="564" width="61.3" height="59" fill="none" stroke="#1a0606" stroke-width="0.8"/>
<rect x="158.1" y="562.4" width="5.7" height="2.4" fill="#000" />
<rect x="166.8" y="562.4" width="6.5" height="2.4" fill="#000" />
<rect x="191.3" y="562.4" width="7.2" height="2.4" fill="#000" />
<rect x="199.8" y="562.4" width="3.0" height="2.4" fill="#000" />
<rect x="155.2" y="622.2" width="5.6" height="2.2" fill="#000" />
<rect x="163.8" y="622.2" width="6.0" height="2.2" fill="#000" />
<rect x="188.4" y="622.2" width="5.8" height="2.2" fill="#000" />
<rect x="196.8" y="622.2" width="6.0" height="2.2" fill="#000" />
<rect x="139.2" y="566.6" width="2.4000000000000004" height="4.4" fill="#000" />
<rect x="139.2" y="575.0" width="2.4000000000000004" height="7.5" fill="#000" />
<rect x="139.2" y="603.4" width="2.4000000000000004" height="4.3" fill="#000" />
<rect x="139.2" y="612.0" width="2.4000000000000004" height="3.7" fill="#000" />
<rect x="201.3" y="586.8" width="2.2" height="5.8" fill="#000" />
<rect x="201.3" y="596.0" width="2.2" height="5.0" fill="#000" />
<rect x="240.5" y="564" width="59.5" height="58.3" fill="#3c1211" />
<g clip-path="url(#ci2)">
<g filter="url(#b3)">
<circle cx="248.0" cy="576.8" r="8" fill="#6a1518" />
<circle cx="274.0" cy="571.0" r="7" fill="#6a1518" />
<circle cx="263.9" cy="581.1" r="5" fill="#6a1518" />
<circle cx="278.3" cy="581.1" r="4" fill="#6a1518" />
<circle cx="295.6" cy="586.9" r="6" fill="#6a1518" />
<circle cx="278.3" cy="597.0" r="5" fill="#6a1518" />
<circle cx="252.3" cy="566.7" r="5" fill="#6a1518" />
<circle cx="297.0" cy="614.3" r="5" fill="#6a1518" />
<circle cx="295.6" cy="566.7" r="4" fill="#6a1518" />
</g><g filter="url(#b15)">
<circle cx="286.9" cy="607.5" r="4.0" fill="#f01a2a" />
<ellipse cx="262.4" cy="607.8" rx="8" ry="3.2" transform="rotate(48 262.4 607.8)" fill="#e8242e"/>
<ellipse cx="266.0" cy="599.1" rx="5.5" ry="1.7" transform="rotate(70 266.0 599.1)" fill="#d02230"/>
<circle cx="255.9" cy="598.4" r="1.7" fill="#ff3444" />
<ellipse cx="270.4" cy="595.8" rx="3" ry="0.9" transform="rotate(-35 270.4 595.8)" fill="#c02028"/>
<circle cx="258.1" cy="566.9" r="2.6" fill="#356a2c" />
<circle cx="253.5" cy="607.1" r="2.8" fill="#387a30" />
<circle cx="260.7" cy="614.6" r="2.6" fill="#365a26" />
<circle cx="279.0" cy="608.8" r="2.4" fill="#36622a" />
<circle cx="293.4" cy="599.1" r="2.4" fill="#4d5a22" />
<circle cx="271.1" cy="607.8" r="1.8" fill="#445a22" />
</g></g>
<line x1="301.4" y1="565" x2="301.4" y2="622.3" stroke="#fff" stroke-width="0.8"/>
<rect x="239.9" y="564" width="1.2" height="58.3" fill="#120505" />
<rect x="257.8" y="562.4" width="5.7" height="2.4" fill="#000" />
<rect x="266.5" y="562.4" width="6.5" height="2.4" fill="#000" />
<rect x="291.0" y="562.4" width="7.2" height="2.4" fill="#000" />
<rect x="299.5" y="562.4" width="3.0" height="2.4" fill="#000" />
<rect x="254.9" y="621.5" width="5.6" height="2.2" fill="#000" />
<rect x="263.5" y="621.5" width="6.0" height="2.2" fill="#000" />
<rect x="288.1" y="621.5" width="5.8" height="2.2" fill="#000" />
<rect x="296.5" y="621.5" width="6.0" height="2.2" fill="#000" />
<rect x="238.7" y="566.6" width="2.6" height="4.4" fill="#000" />
<rect x="238.7" y="575.0" width="2.6" height="7.5" fill="#000" />
<rect x="238.7" y="603.4" width="2.6" height="4.3" fill="#000" />
<rect x="238.7" y="612.0" width="2.6" height="3.7" fill="#000" />
<rect x="299.6" y="564.0" width="2.0" height="2.5" fill="#6a1214" />
<rect x="299.6" y="586.8" width="2.0" height="5.8" fill="#6a1214" />
<rect x="299.6" y="596.0" width="2.0" height="5.0" fill="#6a1214" />
<rect x="299.6" y="620.0" width="2.0" height="2.3" fill="#6a1214" />
<rect x="296.5" y="562.4" width="5.2" height="2.4" fill="#7a1214" />
<rect x="340" y="563.8" width="61.4" height="58.4" fill="#331110" />
<rect x="340" y="563.8" width="6.9" height="58.4" fill="#070303" />
<g clip-path="url(#ci3)">
<g filter="url(#b3)">
<ellipse cx="386.2" cy="591.9" rx="9" ry="5" transform="rotate(-20 386.2 591.9)" fill="#7a1418"/>
</g><g filter="url(#b15)">
<ellipse cx="371.8" cy="572.4" rx="2.6" ry="3.3" fill="#4f9a32" />
<ellipse cx="371.9" cy="579.4" rx="2.7" ry="3.8" fill="#5aa432" />
<ellipse cx="370.4" cy="592.1" rx="4.1" ry="4.5" fill="#48cc48" />
<ellipse cx="384.5" cy="602.0" rx="4.3" ry="4.4" fill="#3cc850" />
<ellipse cx="367.0" cy="604.2" rx="2.7" ry="3.6" fill="#2c8a30" />
<circle cx="372.5" cy="589.0" r="1.3" fill="#a0b040" />
<circle cx="372.2" cy="571.7" r="1.0" fill="#909a38" />
<circle cx="372.8" cy="578.2" r="1.0" fill="#a0a038" />
</g></g>
<rect x="357.3" y="562.2" width="5.7" height="2.4" fill="#000" />
<rect x="366.0" y="562.2" width="6.5" height="2.4" fill="#000" />
<rect x="390.5" y="562.2" width="7.2" height="2.4" fill="#000" />
<rect x="399.0" y="562.2" width="3.0" height="2.4" fill="#000" />
<rect x="354.4" y="621.4" width="5.6" height="2.2" fill="#000" />
<rect x="363.0" y="621.4" width="6.0" height="2.2" fill="#000" />
<rect x="387.6" y="621.4" width="5.8" height="2.2" fill="#000" />
<rect x="396.0" y="621.4" width="6.0" height="2.2" fill="#000" />
<rect x="338.4" y="566.4" width="2.4000000000000004" height="4.4" fill="#000" />
<rect x="338.4" y="574.8" width="2.4000000000000004" height="7.5" fill="#000" />
<rect x="338.4" y="603.2" width="2.4000000000000004" height="4.3" fill="#000" />
<rect x="338.4" y="611.8" width="2.4000000000000004" height="3.7" fill="#000" />
<rect x="400.6" y="586.6" width="2.2" height="5.8" fill="#000" />
<rect x="400.6" y="595.8" width="2.2" height="5.0" fill="#000" />
</svg>
</body></html>
